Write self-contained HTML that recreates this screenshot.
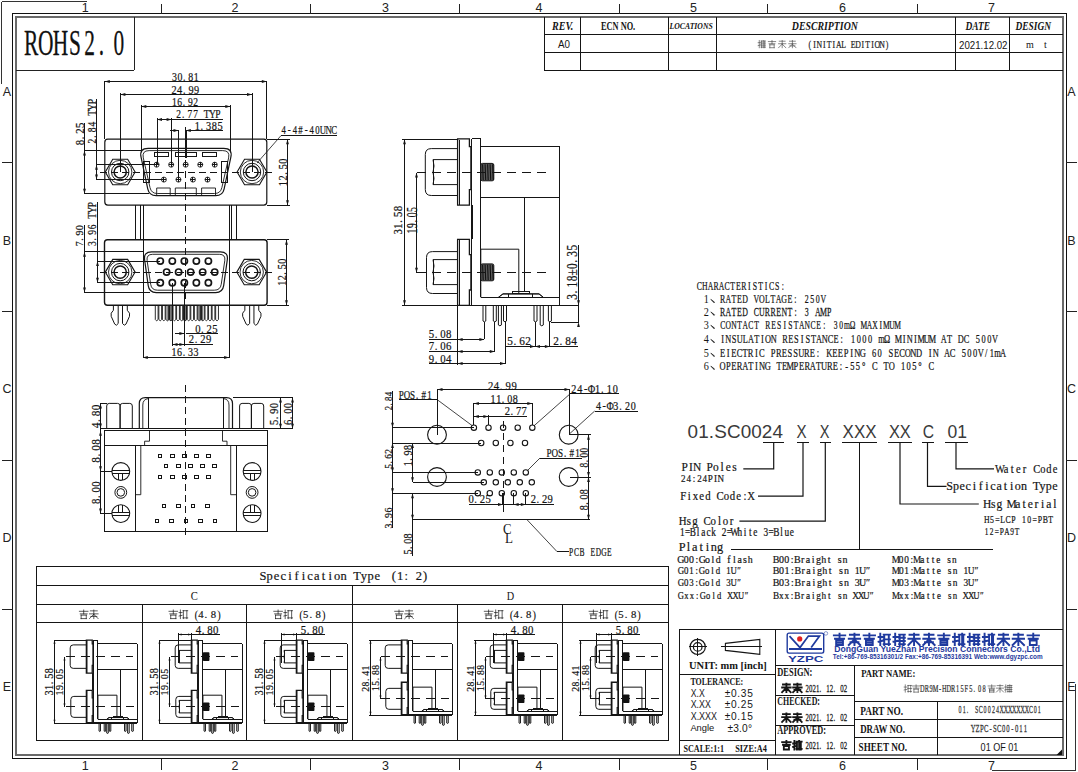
<!DOCTYPE html>
<html><head><meta charset="utf-8"><style>
html,body{margin:0;padding:0;background:#fff;width:1078px;height:772px;overflow:hidden}
svg{display:block;font-family:"Liberation Serif",serif}

</style></head><body>
<svg width="1078" height="772" viewBox="0 0 1078 772"><line x1="1.5" y1="1.5" x2="86.5" y2="1.5" stroke="#333" stroke-width="1" shape-rendering="crispEdges"/>
<line x1="1.5" y1="1.5" x2="1.5" y2="84" stroke="#333" stroke-width="1" shape-rendering="crispEdges"/>
<line x1="991.6" y1="770.5" x2="1075.5" y2="770.5" stroke="#333" stroke-width="1" shape-rendering="crispEdges"/>
<line x1="1075.5" y1="684" x2="1075.5" y2="770.5" stroke="#333" stroke-width="1" shape-rendering="crispEdges"/>
<rect x="12.5" y="13.5" width="1053.5" height="745" stroke="#111" stroke-width="1" fill="none" shape-rendering="crispEdges"/>
<rect x="16" y="17" width="1046.5" height="738" stroke="#6a6a6a" stroke-width="2" fill="none" shape-rendering="crispEdges"/>
<line x1="161.4" y1="3.5" x2="161.4" y2="13.5" stroke="#222" stroke-width="1" shape-rendering="crispEdges"/>
<line x1="161.4" y1="758.5" x2="161.4" y2="769.5" stroke="#222" stroke-width="1" shape-rendering="crispEdges"/>
<line x1="310.2" y1="3.5" x2="310.2" y2="13.5" stroke="#222" stroke-width="1" shape-rendering="crispEdges"/>
<line x1="310.2" y1="758.5" x2="310.2" y2="769.5" stroke="#222" stroke-width="1" shape-rendering="crispEdges"/>
<line x1="459.3" y1="3.5" x2="459.3" y2="13.5" stroke="#222" stroke-width="1" shape-rendering="crispEdges"/>
<line x1="459.3" y1="758.5" x2="459.3" y2="769.5" stroke="#222" stroke-width="1" shape-rendering="crispEdges"/>
<line x1="619.3" y1="3.5" x2="619.3" y2="13.5" stroke="#222" stroke-width="1" shape-rendering="crispEdges"/>
<line x1="619.3" y1="758.5" x2="619.3" y2="769.5" stroke="#222" stroke-width="1" shape-rendering="crispEdges"/>
<line x1="767.5" y1="3.5" x2="767.5" y2="13.5" stroke="#222" stroke-width="1" shape-rendering="crispEdges"/>
<line x1="767.5" y1="758.5" x2="767.5" y2="769.5" stroke="#222" stroke-width="1" shape-rendering="crispEdges"/>
<line x1="917.3" y1="3.5" x2="917.3" y2="13.5" stroke="#222" stroke-width="1" shape-rendering="crispEdges"/>
<line x1="917.3" y1="758.5" x2="917.3" y2="769.5" stroke="#222" stroke-width="1" shape-rendering="crispEdges"/>
<text x="85.3" y="12.3" font-family="Liberation Sans" font-size="12.5" fill="#222" text-anchor="middle">1</text>
<text x="85.3" y="769.8" font-family="Liberation Sans" font-size="12.5" fill="#222" text-anchor="middle">1</text>
<text x="235" y="12.3" font-family="Liberation Sans" font-size="12.5" fill="#222" text-anchor="middle">2</text>
<text x="235" y="769.8" font-family="Liberation Sans" font-size="12.5" fill="#222" text-anchor="middle">2</text>
<text x="385.5" y="12.3" font-family="Liberation Sans" font-size="12.5" fill="#222" text-anchor="middle">3</text>
<text x="385.5" y="769.8" font-family="Liberation Sans" font-size="12.5" fill="#222" text-anchor="middle">3</text>
<text x="539" y="12.3" font-family="Liberation Sans" font-size="12.5" fill="#222" text-anchor="middle">4</text>
<text x="539" y="769.8" font-family="Liberation Sans" font-size="12.5" fill="#222" text-anchor="middle">4</text>
<text x="693.5" y="12.3" font-family="Liberation Sans" font-size="12.5" fill="#222" text-anchor="middle">5</text>
<text x="693.5" y="769.8" font-family="Liberation Sans" font-size="12.5" fill="#222" text-anchor="middle">5</text>
<text x="842.5" y="12.3" font-family="Liberation Sans" font-size="12.5" fill="#222" text-anchor="middle">6</text>
<text x="842.5" y="769.8" font-family="Liberation Sans" font-size="12.5" fill="#222" text-anchor="middle">6</text>
<text x="991.5" y="12.3" font-family="Liberation Sans" font-size="12.5" fill="#222" text-anchor="middle">7</text>
<text x="991.5" y="769.8" font-family="Liberation Sans" font-size="12.5" fill="#222" text-anchor="middle">7</text>
<line x1="2" y1="162" x2="12.5" y2="162" stroke="#222" stroke-width="1" shape-rendering="crispEdges"/>
<line x1="1066" y1="162" x2="1077" y2="162" stroke="#222" stroke-width="1" shape-rendering="crispEdges"/>
<line x1="2" y1="311" x2="12.5" y2="311" stroke="#222" stroke-width="1" shape-rendering="crispEdges"/>
<line x1="1066" y1="311" x2="1077" y2="311" stroke="#222" stroke-width="1" shape-rendering="crispEdges"/>
<line x1="2" y1="460" x2="12.5" y2="460" stroke="#222" stroke-width="1" shape-rendering="crispEdges"/>
<line x1="1066" y1="460" x2="1077" y2="460" stroke="#222" stroke-width="1" shape-rendering="crispEdges"/>
<line x1="2" y1="609.5" x2="12.5" y2="609.5" stroke="#222" stroke-width="1" shape-rendering="crispEdges"/>
<line x1="1066" y1="609.5" x2="1077" y2="609.5" stroke="#222" stroke-width="1" shape-rendering="crispEdges"/>
<text x="7" y="95.5" font-family="Liberation Sans" font-size="12.5" fill="#222" text-anchor="middle">A</text>
<text x="1071.5" y="95.5" font-family="Liberation Sans" font-size="12.5" fill="#222" text-anchor="middle">A</text>
<text x="7" y="244.5" font-family="Liberation Sans" font-size="12.5" fill="#222" text-anchor="middle">B</text>
<text x="1071.5" y="244.5" font-family="Liberation Sans" font-size="12.5" fill="#222" text-anchor="middle">B</text>
<text x="7" y="392.5" font-family="Liberation Sans" font-size="12.5" fill="#222" text-anchor="middle">C</text>
<text x="1071.5" y="392.5" font-family="Liberation Sans" font-size="12.5" fill="#222" text-anchor="middle">C</text>
<text x="7" y="541.5" font-family="Liberation Sans" font-size="12.5" fill="#222" text-anchor="middle">D</text>
<text x="1071.5" y="541.5" font-family="Liberation Sans" font-size="12.5" fill="#222" text-anchor="middle">D</text>
<text x="7" y="691" font-family="Liberation Sans" font-size="12.5" fill="#222" text-anchor="middle">E</text>
<text x="1071.5" y="691" font-family="Liberation Sans" font-size="12.5" fill="#222" text-anchor="middle">E</text>
<line x1="16" y1="70.4" x2="134.4" y2="70.4" stroke="#222" stroke-width="1" shape-rendering="crispEdges"/>
<line x1="134.4" y1="17" x2="134.4" y2="70.4" stroke="#222" stroke-width="1" shape-rendering="crispEdges"/>
<text transform="translate(23.83 55.2) scale(0.61 1)" x="11.98 35.95 59.91 83.88 107.84 127.02 155.77" y="0" font-family="Liberation Serif" font-size="35.11" fill="#111" text-anchor="middle" stroke="#111" stroke-width="0.26">ROHS2.0</text>
<line x1="544.3" y1="17" x2="544.3" y2="70.5" stroke="#151515" stroke-width="1" shape-rendering="crispEdges"/>
<line x1="544.3" y1="34.8" x2="1062.5" y2="34.8" stroke="#151515" stroke-width="1" shape-rendering="crispEdges"/>
<line x1="544.3" y1="52.7" x2="1062.5" y2="52.7" stroke="#151515" stroke-width="1" shape-rendering="crispEdges"/>
<line x1="544.3" y1="70.5" x2="1062.5" y2="70.5" stroke="#151515" stroke-width="1" shape-rendering="crispEdges"/>
<line x1="580.3" y1="17" x2="580.3" y2="70.5" stroke="#151515" stroke-width="1" shape-rendering="crispEdges"/>
<line x1="668" y1="17" x2="668" y2="70.5" stroke="#151515" stroke-width="1" shape-rendering="crispEdges"/>
<line x1="716" y1="17" x2="716" y2="70.5" stroke="#151515" stroke-width="1" shape-rendering="crispEdges"/>
<line x1="955.5" y1="17" x2="955.5" y2="70.5" stroke="#151515" stroke-width="1" shape-rendering="crispEdges"/>
<line x1="1009" y1="17" x2="1009" y2="70.5" stroke="#151515" stroke-width="1" shape-rendering="crispEdges"/>
<text x="552" y="30" font-family="Liberation Serif" font-size="11.67" fill="#151515" font-weight="bold" font-style="italic" textLength="21.3" lengthAdjust="spacingAndGlyphs">REV.</text>
<text x="601" y="30" font-family="Liberation Serif" font-size="11.67" fill="#151515" font-weight="bold" textLength="34.2" lengthAdjust="spacingAndGlyphs">ECN NO.</text>
<text x="669.5" y="29.3" font-family="Liberation Serif" font-size="8.33" fill="#151515" font-weight="bold" font-style="italic" textLength="43.3" lengthAdjust="spacingAndGlyphs">LOCATIONS</text>
<text x="791.8" y="30.3" font-family="Liberation Serif" font-size="12.12" fill="#151515" font-weight="bold" font-style="italic" textLength="66.1" lengthAdjust="spacingAndGlyphs">DESCRIPTION</text>
<text x="965.5" y="30.3" font-family="Liberation Serif" font-size="11.82" fill="#151515" font-weight="bold" font-style="italic" textLength="24.6" lengthAdjust="spacingAndGlyphs">DATE</text>
<text x="1015.5" y="30.3" font-family="Liberation Serif" font-size="11.82" fill="#151515" font-weight="bold" font-style="italic" textLength="35.5" lengthAdjust="spacingAndGlyphs">DESIGN</text>
<text x="558" y="48.2" font-family="Liberation Sans" font-size="10.76" fill="#151515" textLength="12" lengthAdjust="spacingAndGlyphs">A0</text>
<text x="959" y="48.8" font-family="Liberation Sans" font-size="10.76" fill="#151515" textLength="48.5" lengthAdjust="spacingAndGlyphs">2021.12.02</text>
<text x="1026" y="47.5" font-family="Liberation Serif" font-size="10" fill="#151515">m</text>
<text x="1044" y="47.5" font-family="Liberation Serif" font-size="10" fill="#151515">t</text>
<text transform="translate(807.32 47.6) scale(0.69 1)" x="3.5 10.5 17.5 24.49 31.49 38.49 45.49 52.49 59.49 66.49 73.48 80.48 87.48 94.48 101.48 108.48 115.47" y="0" font-family="Liberation Serif" font-size="11.3" fill="#222" text-anchor="middle" stroke="#222" stroke-width="0.24">(INITIAL EDITION)</text>
<rect x="104.8" y="139.2" width="162" height="65.9" stroke="#151515" stroke-width="1.2" fill="none" rx="3"/>
<path d="M148.2,148.4 L223.7,148.4 Q232.7,148.4 230.84,157.21 L224.15,188.85 Q222.7,195.7 215.7,195.7 L156.2,195.7 Q149.2,195.7 147.75,188.85 L141.06,157.21 Q139.2,148.4 148.2,148.4 Z" stroke="#151515" stroke-width="1.2" fill="none" />
<path d="M149.15,150.6 L222.75,150.6 Q230.25,150.6 228.6,157.92 L221.87,187.65 Q220.55,193.5 214.55,193.5 L157.35,193.5 Q151.35,193.5 150.03,187.65 L143.3,157.92 Q141.65,150.6 149.15,150.6 Z" stroke="#151515" stroke-width="0.9" fill="none" />
<rect x="154.5" y="152.4" width="13.9" height="4.4" stroke="#151515" stroke-width="1" fill="none" shape-rendering="crispEdges"/>
<rect x="175.3" y="152.4" width="21" height="4.4" stroke="#151515" stroke-width="1" fill="none" shape-rendering="crispEdges"/>
<rect x="202.9" y="152.4" width="13.8" height="4.4" stroke="#151515" stroke-width="1" fill="none" shape-rendering="crispEdges"/>
<path d="M156.7,195 V188 H170.2 V195" stroke="#151515" stroke-width="0.9" fill="none" />
<path d="M175.3,195 V188 H196.3 V195" stroke="#151515" stroke-width="0.9" fill="none" />
<path d="M201.6,195 V188 H215.5 V195" stroke="#151515" stroke-width="0.9" fill="none" />
<rect x="143.3" y="161.6" width="6.1" height="20.4" stroke="#151515" stroke-width="1" fill="none" shape-rendering="crispEdges"/>
<rect x="221.8" y="161.6" width="6.1" height="20.4" stroke="#151515" stroke-width="1" fill="none" shape-rendering="crispEdges"/>
<circle cx="156.6" cy="164.7" r="2.5" stroke="#151515" stroke-width="0.9" fill="none"/>
<line x1="154.1" y1="164.7" x2="159.1" y2="164.7" stroke="#151515" stroke-width="1" shape-rendering="crispEdges"/>
<line x1="156.6" y1="162.2" x2="156.6" y2="167.2" stroke="#151515" stroke-width="1" shape-rendering="crispEdges"/>
<circle cx="171.14" cy="164.7" r="2.5" stroke="#151515" stroke-width="0.9" fill="none"/>
<line x1="168.64" y1="164.7" x2="173.64" y2="164.7" stroke="#151515" stroke-width="1" shape-rendering="crispEdges"/>
<line x1="171.14" y1="162.2" x2="171.14" y2="167.2" stroke="#151515" stroke-width="1" shape-rendering="crispEdges"/>
<circle cx="185.68" cy="164.7" r="2.5" stroke="#151515" stroke-width="0.9" fill="none"/>
<line x1="183.18" y1="164.7" x2="188.18" y2="164.7" stroke="#151515" stroke-width="1" shape-rendering="crispEdges"/>
<line x1="185.68" y1="162.2" x2="185.68" y2="167.2" stroke="#151515" stroke-width="1" shape-rendering="crispEdges"/>
<circle cx="200.22" cy="164.7" r="2.5" stroke="#151515" stroke-width="0.9" fill="none"/>
<line x1="197.72" y1="164.7" x2="202.72" y2="164.7" stroke="#151515" stroke-width="1" shape-rendering="crispEdges"/>
<line x1="200.22" y1="162.2" x2="200.22" y2="167.2" stroke="#151515" stroke-width="1" shape-rendering="crispEdges"/>
<circle cx="214.76" cy="164.7" r="2.5" stroke="#151515" stroke-width="0.9" fill="none"/>
<line x1="212.26" y1="164.7" x2="217.26" y2="164.7" stroke="#151515" stroke-width="1" shape-rendering="crispEdges"/>
<line x1="214.76" y1="162.2" x2="214.76" y2="167.2" stroke="#151515" stroke-width="1" shape-rendering="crispEdges"/>
<circle cx="163.9" cy="179.6" r="2.5" stroke="#151515" stroke-width="0.9" fill="none"/>
<line x1="161.4" y1="179.6" x2="166.4" y2="179.6" stroke="#151515" stroke-width="1" shape-rendering="crispEdges"/>
<line x1="163.9" y1="177.1" x2="163.9" y2="182.1" stroke="#151515" stroke-width="1" shape-rendering="crispEdges"/>
<circle cx="178.44" cy="179.6" r="2.5" stroke="#151515" stroke-width="0.9" fill="none"/>
<line x1="175.94" y1="179.6" x2="180.94" y2="179.6" stroke="#151515" stroke-width="1" shape-rendering="crispEdges"/>
<line x1="178.44" y1="177.1" x2="178.44" y2="182.1" stroke="#151515" stroke-width="1" shape-rendering="crispEdges"/>
<circle cx="192.98" cy="179.6" r="2.5" stroke="#151515" stroke-width="0.9" fill="none"/>
<line x1="190.48" y1="179.6" x2="195.48" y2="179.6" stroke="#151515" stroke-width="1" shape-rendering="crispEdges"/>
<line x1="192.98" y1="177.1" x2="192.98" y2="182.1" stroke="#151515" stroke-width="1" shape-rendering="crispEdges"/>
<circle cx="207.52" cy="179.6" r="2.5" stroke="#151515" stroke-width="0.9" fill="none"/>
<line x1="205.02" y1="179.6" x2="210.02" y2="179.6" stroke="#151515" stroke-width="1" shape-rendering="crispEdges"/>
<line x1="207.52" y1="177.1" x2="207.52" y2="182.1" stroke="#151515" stroke-width="1" shape-rendering="crispEdges"/>
<polygon points="105.3,172 112.75,159.3 127.65,159.3 135.1,172 127.65,184.7 112.75,184.7" stroke="#151515" stroke-width="1.1" fill="none"/>
<circle cx="120.2" cy="172" r="11.7" stroke="#151515" stroke-width="0.9" fill="none"/>
<circle cx="120.2" cy="172" r="8.7" stroke="#151515" stroke-width="1" fill="none"/>
<circle cx="120.2" cy="172" r="6.1" stroke="#151515" stroke-width="1.5" fill="none"/>
<polygon points="237.1,172 244.55,159.3 259.45,159.3 266.9,172 259.45,184.7 244.55,184.7" stroke="#151515" stroke-width="1.1" fill="none"/>
<circle cx="252" cy="172" r="11.7" stroke="#151515" stroke-width="0.9" fill="none"/>
<circle cx="252" cy="172" r="8.7" stroke="#151515" stroke-width="1" fill="none"/>
<circle cx="252" cy="172" r="6.1" stroke="#151515" stroke-width="1.5" fill="none"/>
<line x1="100" y1="172" x2="272" y2="172" stroke="#151515" stroke-width="1" shape-rendering="crispEdges" stroke-dasharray="7,4"/>
<line x1="135.1" y1="205.1" x2="135.1" y2="239.7" stroke="#151515" stroke-width="1" shape-rendering="crispEdges"/>
<line x1="140.5" y1="205.1" x2="140.5" y2="239.7" stroke="#151515" stroke-width="1" shape-rendering="crispEdges"/>
<line x1="231.4" y1="205.1" x2="231.4" y2="239.7" stroke="#151515" stroke-width="1" shape-rendering="crispEdges"/>
<line x1="236.8" y1="205.1" x2="236.8" y2="239.7" stroke="#151515" stroke-width="1" shape-rendering="crispEdges"/>
<rect x="104.5" y="239.7" width="162.6" height="65.5" stroke="#151515" stroke-width="1.4" fill="none" rx="3"/>
<path d="M151.5,251.8 L220.4,251.8 Q228.4,251.8 227.29,259.72 L223.67,285.67 Q222.7,292.6 215.7,292.6 L156.2,292.6 Q149.2,292.6 148.23,285.67 L144.61,259.72 Q143.5,251.8 151.5,251.8 Z" stroke="#151515" stroke-width="1.2" fill="none" />
<path d="M152.65,254.3 L219.25,254.3 Q225.75,254.3 224.78,260.73 L221.24,284.27 Q220.35,290.2 214.35,290.2 L157.55,290.2 Q151.55,290.2 150.66,284.27 L147.12,260.73 Q146.15,254.3 152.65,254.3 Z" stroke="#151515" stroke-width="0.9" fill="none" />
<circle cx="160.3" cy="261.1" r="3.1" stroke="#151515" stroke-width="1.7" fill="none"/>
<circle cx="172.32" cy="261.1" r="3.1" stroke="#151515" stroke-width="1.7" fill="none"/>
<circle cx="184.34" cy="261.1" r="3.1" stroke="#151515" stroke-width="1.7" fill="none"/>
<circle cx="196.36" cy="261.1" r="3.1" stroke="#151515" stroke-width="1.7" fill="none"/>
<circle cx="208.38" cy="261.1" r="3.1" stroke="#151515" stroke-width="1.7" fill="none"/>
<circle cx="166.6" cy="272.1" r="3.1" stroke="#151515" stroke-width="1.7" fill="none"/>
<circle cx="178.62" cy="272.1" r="3.1" stroke="#151515" stroke-width="1.7" fill="none"/>
<circle cx="190.64" cy="272.1" r="3.1" stroke="#151515" stroke-width="1.7" fill="none"/>
<circle cx="202.66" cy="272.1" r="3.1" stroke="#151515" stroke-width="1.7" fill="none"/>
<circle cx="214.68" cy="272.1" r="3.1" stroke="#151515" stroke-width="1.7" fill="none"/>
<circle cx="160.3" cy="282.8" r="3.1" stroke="#151515" stroke-width="1.7" fill="none"/>
<circle cx="172.32" cy="282.8" r="3.1" stroke="#151515" stroke-width="1.7" fill="none"/>
<circle cx="184.34" cy="282.8" r="3.1" stroke="#151515" stroke-width="1.7" fill="none"/>
<circle cx="196.36" cy="282.8" r="3.1" stroke="#151515" stroke-width="1.7" fill="none"/>
<circle cx="208.38" cy="282.8" r="3.1" stroke="#151515" stroke-width="1.7" fill="none"/>
<polygon points="105.3,272.1 112.75,259.4 127.65,259.4 135.1,272.1 127.65,284.8 112.75,284.8" stroke="#151515" stroke-width="1.1" fill="none"/>
<circle cx="120.2" cy="272.1" r="11.7" stroke="#151515" stroke-width="0.9" fill="none"/>
<circle cx="120.2" cy="272.1" r="8.7" stroke="#151515" stroke-width="1" fill="none"/>
<circle cx="120.2" cy="272.1" r="6.1" stroke="#151515" stroke-width="1.5" fill="none"/>
<polygon points="236.8,272.1 244.25,259.4 259.15,259.4 266.6,272.1 259.15,284.8 244.25,284.8" stroke="#151515" stroke-width="1.1" fill="none"/>
<circle cx="251.7" cy="272.1" r="11.7" stroke="#151515" stroke-width="0.9" fill="none"/>
<circle cx="251.7" cy="272.1" r="8.7" stroke="#151515" stroke-width="1" fill="none"/>
<circle cx="251.7" cy="272.1" r="6.1" stroke="#151515" stroke-width="1.5" fill="none"/>
<line x1="100" y1="272.1" x2="272" y2="272.1" stroke="#151515" stroke-width="1" shape-rendering="crispEdges" stroke-dasharray="7,4"/>
<line x1="185.8" y1="127" x2="185.8" y2="300" stroke="#151515" stroke-width="1" shape-rendering="crispEdges" stroke-dasharray="7,4"/>
<line x1="185.8" y1="129.5" x2="185.8" y2="158" stroke="#151515" stroke-width="2" shape-rendering="crispEdges"/>
<rect x="167.2" y="305.8" width="5.1" height="14.7" fill="#777"/>
<rect x="182.2" y="305.8" width="4.6" height="14.7" fill="#777"/>
<rect x="198.6" y="305.8" width="4.4" height="14.7" fill="#777"/>
<path d="M155.3,305.3 V319.5 Q156.7,322.3 158.1,319.5 V305.3" stroke="#151515" stroke-width="0.9" fill="none" />
<path d="M158.85,305.3 V319.5 Q160.25,322.3 161.65,319.5 V305.3" stroke="#151515" stroke-width="0.9" fill="none" />
<path d="M162.4,305.3 V319.5 Q163.8,322.3 165.2,319.5 V305.3" stroke="#151515" stroke-width="0.9" fill="none" />
<path d="M165.95,305.3 V319.5 Q167.35,322.3 168.75,319.5 V305.3" stroke="#151515" stroke-width="0.9" fill="none" />
<path d="M169.5,305.3 V319.5 Q170.9,322.3 172.3,319.5 V305.3" stroke="#151515" stroke-width="0.9" fill="none" />
<path d="M173.05,305.3 V319.5 Q174.45,322.3 175.85,319.5 V305.3" stroke="#151515" stroke-width="0.9" fill="none" />
<path d="M176.6,305.3 V319.5 Q178,322.3 179.4,319.5 V305.3" stroke="#151515" stroke-width="0.9" fill="none" />
<path d="M180.15,305.3 V319.5 Q181.55,322.3 182.95,319.5 V305.3" stroke="#151515" stroke-width="0.9" fill="none" />
<path d="M183.7,305.3 V319.5 Q185.1,322.3 186.5,319.5 V305.3" stroke="#151515" stroke-width="0.9" fill="none" />
<path d="M187.25,305.3 V319.5 Q188.65,322.3 190.05,319.5 V305.3" stroke="#151515" stroke-width="0.9" fill="none" />
<path d="M190.8,305.3 V319.5 Q192.2,322.3 193.6,319.5 V305.3" stroke="#151515" stroke-width="0.9" fill="none" />
<path d="M194.35,305.3 V319.5 Q195.75,322.3 197.15,319.5 V305.3" stroke="#151515" stroke-width="0.9" fill="none" />
<path d="M197.9,305.3 V319.5 Q199.3,322.3 200.7,319.5 V305.3" stroke="#151515" stroke-width="0.9" fill="none" />
<path d="M201.45,305.3 V319.5 Q202.85,322.3 204.25,319.5 V305.3" stroke="#151515" stroke-width="0.9" fill="none" />
<path d="M205,305.3 V319.5 Q206.4,322.3 207.8,319.5 V305.3" stroke="#151515" stroke-width="0.9" fill="none" />
<path d="M208.55,305.3 V319.5 Q209.95,322.3 211.35,319.5 V305.3" stroke="#151515" stroke-width="0.9" fill="none" />
<path d="M212.1,305.3 V319.5 Q213.5,322.3 214.9,319.5 V305.3" stroke="#151515" stroke-width="0.9" fill="none" />
<path d="M215.65,305.3 V319.5 Q217.05,322.3 218.45,319.5 V305.3" stroke="#151515" stroke-width="0.9" fill="none" />
<path d="M113.4,305.3 L113.4,310.3 L111.2,313.2 L111.2,316.3 L114.7,324.1 Q116.45,326.6 118.2,323.5 L118.2,305.3" stroke="#151515" stroke-width="1" fill="none" />
<path d="M127.3,305.3 L127.3,310.3 L129.5,313.2 L129.5,316.3 L126,324.1 Q124.25,326.6 122.5,323.5 L122.5,305.3" stroke="#151515" stroke-width="1" fill="none" />
<path d="M244.85,305.3 L244.85,310.3 L242.65,313.2 L242.65,316.3 L246.15,324.1 Q247.9,326.6 249.65,323.5 L249.65,305.3" stroke="#151515" stroke-width="1" fill="none" />
<path d="M258.75,305.3 L258.75,310.3 L260.95,313.2 L260.95,316.3 L257.45,324.1 Q255.7,326.6 253.95,323.5 L253.95,305.3" stroke="#151515" stroke-width="1" fill="none" />
<line x1="104.8" y1="80.8" x2="104.8" y2="139.2" stroke="#151515" stroke-width="1" shape-rendering="crispEdges"/>
<line x1="266.8" y1="80.8" x2="266.8" y2="139.2" stroke="#151515" stroke-width="1" shape-rendering="crispEdges"/>
<line x1="104.8" y1="81.8" x2="266.8" y2="81.8" stroke="#151515" stroke-width="1" shape-rendering="crispEdges"/>
<polygon points="104.8,81.5 109.8,80.1 109.8,82.9" fill="#151515"/>
<polygon points="266.8,81.5 261.8,82.9 261.8,80.1" fill="#151515"/>
<line x1="120.4" y1="93.3" x2="120.4" y2="172" stroke="#151515" stroke-width="1" shape-rendering="crispEdges"/>
<line x1="252" y1="93.3" x2="252" y2="172" stroke="#151515" stroke-width="1" shape-rendering="crispEdges"/>
<line x1="120.4" y1="94.3" x2="252" y2="94.3" stroke="#151515" stroke-width="1" shape-rendering="crispEdges"/>
<polygon points="120.4,94.5 125.4,93.1 125.4,95.9" fill="#151515"/>
<polygon points="252,94.5 247,95.9 247,93.1" fill="#151515"/>
<line x1="141.3" y1="105.3" x2="141.3" y2="152" stroke="#151515" stroke-width="1" shape-rendering="crispEdges"/>
<line x1="230.3" y1="105.3" x2="230.3" y2="152" stroke="#151515" stroke-width="1" shape-rendering="crispEdges"/>
<line x1="141.3" y1="106.3" x2="230.3" y2="106.3" stroke="#151515" stroke-width="1" shape-rendering="crispEdges"/>
<polygon points="141.3,106.5 146.3,105.1 146.3,107.9" fill="#151515"/>
<polygon points="230.3,106.5 225.3,107.9 225.3,105.1" fill="#151515"/>
<line x1="157" y1="118.1" x2="157" y2="164.7" stroke="#151515" stroke-width="1" shape-rendering="crispEdges"/>
<line x1="171.6" y1="118.1" x2="171.6" y2="164.7" stroke="#151515" stroke-width="1" shape-rendering="crispEdges"/>
<line x1="157" y1="119.1" x2="171.6" y2="119.1" stroke="#151515" stroke-width="1" shape-rendering="crispEdges"/>
<polygon points="157,119.5 162,118.1 162,120.9" fill="#151515"/>
<polygon points="171.6,119.5 166.6,120.9 166.6,118.1" fill="#151515"/>
<line x1="171.6" y1="119.1" x2="222.8" y2="119.1" stroke="#151515" stroke-width="1" shape-rendering="crispEdges"/>
<line x1="178.5" y1="129.5" x2="178.5" y2="179.6" stroke="#151515" stroke-width="1" shape-rendering="crispEdges"/>
<line x1="169.5" y1="130.5" x2="178.5" y2="130.5" stroke="#151515" stroke-width="1" shape-rendering="crispEdges"/>
<polygon points="178.5,130.5 173.5,131.9 173.5,129.1" fill="#151515"/>
<line x1="185.8" y1="130.5" x2="222.8" y2="130.5" stroke="#151515" stroke-width="1" shape-rendering="crispEdges"/>
<polygon points="185.8,130.5 190.8,129.1 190.8,131.9" fill="#151515"/>
<text transform="translate(171.87 80.9) scale(0.82 1)" x="3.29 9.88 15.15 23.05 29.63" y="0" font-family="Liberation Serif" font-size="12" fill="#151515" text-anchor="middle" stroke="#151515" stroke-width="0.22">30.81</text>
<text transform="translate(171.15 93.8) scale(0.86 1)" x="3.29 9.88 15.15 23.05 29.63" y="0" font-family="Liberation Serif" font-size="12" fill="#151515" text-anchor="middle" stroke="#151515" stroke-width="0.22">24.99</text>
<text transform="translate(171.88 105.8) scale(0.8 1)" x="3.29 9.88 15.15 23.05 29.63" y="0" font-family="Liberation Serif" font-size="12" fill="#151515" text-anchor="middle" stroke="#151515" stroke-width="0.22">16.92</text>
<text transform="translate(175.85 118) scale(0.79 1)" x="3.56 9.25 17.79 24.9 32.01 39.13 46.24 53.36" y="0" font-family="Liberation Serif" font-size="12" fill="#151515" text-anchor="middle" stroke="#151515" stroke-width="0.22">2.77 TYP</text>
<text transform="translate(194.55 129.5) scale(0.86 1)" x="3.29 8.56 16.46 23.05 29.63" y="0" font-family="Liberation Serif" font-size="12" fill="#151515" text-anchor="middle" stroke="#151515" stroke-width="0.22">1.385</text>
<line x1="84.6" y1="122.6" x2="84.6" y2="193.7" stroke="#151515" stroke-width="1" shape-rendering="crispEdges"/>
<polygon points="84.5,150.4 85.9,155.4 83.1,155.4" fill="#151515"/>
<polygon points="84.5,193.7 83.1,188.7 85.9,188.7" fill="#151515"/>
<line x1="84" y1="150.4" x2="141" y2="150.4" stroke="#151515" stroke-width="1" shape-rendering="crispEdges"/>
<line x1="84" y1="193.7" x2="149" y2="193.7" stroke="#151515" stroke-width="1" shape-rendering="crispEdges"/>
<line x1="96.4" y1="99" x2="96.4" y2="179.6" stroke="#151515" stroke-width="1" shape-rendering="crispEdges"/>
<polygon points="96.5,164.7 97.9,169.7 95.1,169.7" fill="#151515"/>
<polygon points="96.5,179.6 95.1,174.6 97.9,174.6" fill="#151515"/>
<line x1="95.5" y1="164.7" x2="156.6" y2="164.7" stroke="#151515" stroke-width="1" shape-rendering="crispEdges"/>
<line x1="95.5" y1="179.6" x2="163.9" y2="179.6" stroke="#151515" stroke-width="1" shape-rendering="crispEdges"/>
<text transform="translate(83.9 145.36) rotate(-90) scale(0.85 1)" x="3.38 8.79 16.9 23.66" y="0" font-family="Liberation Serif" font-size="12.67" fill="#151515" text-anchor="middle" stroke="#151515" stroke-width="0.22">8.25</text>
<text transform="translate(95.7 143.95) rotate(-90) scale(0.75 1)" x="3.76 9.77 18.78 26.29 33.81 41.32 48.83 56.34" y="0" font-family="Liberation Serif" font-size="12.67" fill="#151515" text-anchor="middle" stroke="#151515" stroke-width="0.23">2.84 TYP</text>
<line x1="266.8" y1="139.2" x2="289.5" y2="139.2" stroke="#151515" stroke-width="1" shape-rendering="crispEdges"/>
<line x1="266.8" y1="205.2" x2="289.5" y2="205.2" stroke="#151515" stroke-width="1" shape-rendering="crispEdges"/>
<line x1="287.7" y1="139.2" x2="287.7" y2="205.2" stroke="#151515" stroke-width="1" shape-rendering="crispEdges"/>
<polygon points="287.5,139.2 288.9,144.2 286.1,144.2" fill="#151515"/>
<polygon points="287.5,205.2 286.1,200.2 288.9,200.2" fill="#151515"/>
<text transform="translate(286.8 186.45) rotate(-90) scale(0.81 1)" x="3.48 10.43 15.99 24.34 31.29" y="0" font-family="Liberation Serif" font-size="12.67" fill="#151515" text-anchor="middle" stroke="#151515" stroke-width="0.22">12.50</text>
<text transform="translate(280.85 134.2) scale(0.74 1)" x="3.8 11.39 18.99 26.58 34.17 41.77 49.36 56.96 64.55 72.15" y="0" font-family="Liberation Serif" font-size="11.8" fill="#151515" text-anchor="middle" stroke="#151515" stroke-width="0.23">4-4#-40UNC</text>
<line x1="281" y1="135.6" x2="337" y2="135.6" stroke="#151515" stroke-width="1" shape-rendering="crispEdges"/>
<line x1="281" y1="135.6" x2="257" y2="163" stroke="#151515" stroke-width="0.8"/>
<line x1="84.5" y1="225" x2="84.5" y2="292.6" stroke="#151515" stroke-width="1" shape-rendering="crispEdges"/>
<polygon points="84.5,251.8 85.9,256.8 83.1,256.8" fill="#151515"/>
<polygon points="84.5,292.6 83.1,287.6 85.9,287.6" fill="#151515"/>
<line x1="84" y1="251.8" x2="143.5" y2="251.8" stroke="#151515" stroke-width="1" shape-rendering="crispEdges"/>
<line x1="84" y1="292.6" x2="150" y2="292.6" stroke="#151515" stroke-width="1" shape-rendering="crispEdges"/>
<line x1="97.3" y1="201.7" x2="97.3" y2="282.8" stroke="#151515" stroke-width="1" shape-rendering="crispEdges"/>
<polygon points="97.5,261.1 98.9,266.1 96.1,266.1" fill="#151515"/>
<polygon points="97.5,282.8 96.1,277.8 98.9,277.8" fill="#151515"/>
<line x1="96.5" y1="261.1" x2="160.3" y2="261.1" stroke="#151515" stroke-width="1" shape-rendering="crispEdges"/>
<line x1="96.5" y1="282.8" x2="160.3" y2="282.8" stroke="#151515" stroke-width="1" shape-rendering="crispEdges"/>
<text transform="translate(83.3 246.43) rotate(-90) scale(0.94 1)" x="2.85 7.41 14.25 19.96" y="0" font-family="Liberation Serif" font-size="10.69" fill="#151515" text-anchor="middle" stroke="#151515" stroke-width="0.21">7.90</text>
<text transform="translate(96 246.45) rotate(-90) scale(0.77 1)" x="3.62 9.41 18.1 25.34 32.58 39.83 47.07 54.31" y="0" font-family="Liberation Serif" font-size="12.21" fill="#151515" text-anchor="middle" stroke="#151515" stroke-width="0.23">3.96 TYP</text>
<line x1="267.1" y1="239.7" x2="288.5" y2="239.7" stroke="#151515" stroke-width="1" shape-rendering="crispEdges"/>
<line x1="267.1" y1="305.2" x2="288.5" y2="305.2" stroke="#151515" stroke-width="1" shape-rendering="crispEdges"/>
<line x1="286.2" y1="239.7" x2="286.2" y2="305.2" stroke="#151515" stroke-width="1" shape-rendering="crispEdges"/>
<polygon points="286.5,239.7 287.9,244.7 285.1,244.7" fill="#151515"/>
<polygon points="286.5,305.2 285.1,300.2 287.9,300.2" fill="#151515"/>
<text transform="translate(286.2 286.04) rotate(-90) scale(0.8 1)" x="3.44 10.31 15.8 24.05 30.92" y="0" font-family="Liberation Serif" font-size="12.52" fill="#151515" text-anchor="middle" stroke="#151515" stroke-width="0.22">12.50</text>
<line x1="143.2" y1="205.1" x2="143.2" y2="358" stroke="#151515" stroke-width="1" shape-rendering="crispEdges"/>
<line x1="229.1" y1="205.1" x2="229.1" y2="358" stroke="#151515" stroke-width="1" shape-rendering="crispEdges"/>
<line x1="142.8" y1="357.2" x2="229.1" y2="357.2" stroke="#151515" stroke-width="1" shape-rendering="crispEdges"/>
<polygon points="142.8,357.5 147.8,356.1 147.8,358.9" fill="#151515"/>
<polygon points="229.1,357.5 224.1,358.9 224.1,356.1" fill="#151515"/>
<text transform="translate(171.36 355.7) scale(0.83 1)" x="3.29 9.88 15.15 23.05 29.63" y="0" font-family="Liberation Serif" font-size="12" fill="#151515" text-anchor="middle" stroke="#151515" stroke-width="0.22">16.33</text>
<line x1="172.5" y1="282.8" x2="172.5" y2="346" stroke="#151515" stroke-width="1" shape-rendering="crispEdges"/>
<line x1="184.6" y1="282.8" x2="184.6" y2="346" stroke="#151515" stroke-width="1" shape-rendering="crispEdges"/>
<line x1="174.9" y1="333.2" x2="184.4" y2="333.2" stroke="#151515" stroke-width="1" shape-rendering="crispEdges"/>
<polygon points="184.4,333.5 179.4,334.9 179.4,332.1" fill="#151515"/>
<line x1="186" y1="333.2" x2="218.3" y2="333.2" stroke="#151515" stroke-width="1" shape-rendering="crispEdges"/>
<line x1="172.5" y1="344.2" x2="184.4" y2="344.2" stroke="#151515" stroke-width="1" shape-rendering="crispEdges"/>
<polygon points="172.5,344.5 177.5,343.1 177.5,345.9" fill="#151515"/>
<polygon points="184.4,344.5 179.4,345.9 179.4,343.1" fill="#151515"/>
<line x1="184.4" y1="344.2" x2="212.8" y2="344.2" stroke="#151515" stroke-width="1" shape-rendering="crispEdges"/>
<text transform="translate(194.95 332.8) scale(0.89 1)" x="3.2 8.32 16.01 22.41" y="0" font-family="Liberation Serif" font-size="12" fill="#151515" text-anchor="middle" stroke="#151515" stroke-width="0.21">0.25</text>
<text transform="translate(188.65 343.1) scale(0.89 1)" x="3.2 8.32 16.01 22.41" y="0" font-family="Liberation Serif" font-size="12" fill="#151515" text-anchor="middle" stroke="#151515" stroke-width="0.21">2.29</text>
<path d="M457.6,148.6 H431.3 Q425.3,148.6 425.3,154.6 V189.5 Q425.3,195.5 431.3,195.5 H457.6" stroke="#151515" stroke-width="1" fill="none" />
<path d="M457.6,159.6 H433 Q435,166 433,172.3 Q435,178.6 433,184.6 H457.6" stroke="#151515" stroke-width="1" fill="none" />
<line x1="433" y1="159.6" x2="433" y2="184.6" stroke="#151515" stroke-width="1" shape-rendering="crispEdges"/>
<path d="M457.6,138.9 H469.4 V146.6 H470.9 V189.6 H469.4 V205.1 H457.6 Z" stroke="#151515" stroke-width="1.3" fill="none" />
<line x1="459.4" y1="139.5" x2="459.4" y2="204.5" stroke="#151515" stroke-width="1" shape-rendering="crispEdges"/>
<line x1="471.5" y1="138.9" x2="480.8" y2="138.9" stroke="#151515" stroke-width="1" shape-rendering="crispEdges"/>
<line x1="480.8" y1="146.6" x2="559.6" y2="146.6" stroke="#151515" stroke-width="1" shape-rendering="crispEdges"/>
<line x1="480.8" y1="197.4" x2="559.6" y2="197.4" stroke="#151515" stroke-width="1" shape-rendering="crispEdges"/>
<rect x="480.8" y="163.4" width="13" height="17.4" rx="1.6" fill="#5a5a5a" stroke="#111" stroke-width="1"/>
<line x1="482.6" y1="164.2" x2="483.2" y2="180" stroke="#111" stroke-width="1.1"/>
<line x1="485.1" y1="164.2" x2="485.7" y2="180" stroke="#111" stroke-width="1.1"/>
<line x1="487.6" y1="164.2" x2="488.2" y2="180" stroke="#111" stroke-width="1.1"/>
<line x1="490.1" y1="164.2" x2="490.7" y2="180" stroke="#111" stroke-width="1.1"/>
<line x1="492.6" y1="164.2" x2="493.2" y2="180" stroke="#111" stroke-width="1.1"/>
<line x1="416.7" y1="172.5" x2="550" y2="172.5" stroke="#151515" stroke-width="1" shape-rendering="crispEdges" stroke-dasharray="9,6"/>
<path d="M457.6,251.6 H432.5 Q426.5,251.6 426.5,257.6 V287.5 Q426.5,293.5 432.5,293.5 H457.6" stroke="#151515" stroke-width="1" fill="none" />
<path d="M457.6,259.6 H433 Q435,266 433,272.3 Q435,278.6 433,284.6 H457.6" stroke="#151515" stroke-width="1" fill="none" />
<line x1="433" y1="259.6" x2="433" y2="284.6" stroke="#151515" stroke-width="1" shape-rendering="crispEdges"/>
<path d="M457.6,239.4 H469.4 V254.7 H470.9 V290 H469.4 V305.3 H457.6 Z" stroke="#151515" stroke-width="1.3" fill="none" />
<line x1="459.4" y1="240" x2="459.4" y2="304.8" stroke="#151515" stroke-width="1" shape-rendering="crispEdges"/>
<path d="M480.8,297.4 V249.2 H518.8 V293.9" stroke="#151515" stroke-width="1" fill="none" />
<rect x="480.8" y="263.9" width="13" height="16.9" rx="1.6" fill="#5a5a5a" stroke="#111" stroke-width="1"/>
<line x1="482.6" y1="264.7" x2="483.2" y2="280" stroke="#111" stroke-width="1.1"/>
<line x1="485.1" y1="264.7" x2="485.7" y2="280" stroke="#111" stroke-width="1.1"/>
<line x1="487.6" y1="264.7" x2="488.2" y2="280" stroke="#111" stroke-width="1.1"/>
<line x1="490.1" y1="264.7" x2="490.7" y2="280" stroke="#111" stroke-width="1.1"/>
<line x1="492.6" y1="264.7" x2="493.2" y2="280" stroke="#111" stroke-width="1.1"/>
<line x1="416.7" y1="272.7" x2="552" y2="272.7" stroke="#151515" stroke-width="1" shape-rendering="crispEdges" stroke-dasharray="9,6"/>
<line x1="471.5" y1="138.9" x2="471.5" y2="305.3" stroke="#151515" stroke-width="1" shape-rendering="crispEdges"/>
<line x1="471.8" y1="205.1" x2="471.8" y2="239.4" stroke="#151515" stroke-width="2" shape-rendering="crispEdges"/>
<line x1="480.8" y1="138.9" x2="480.8" y2="297.3" stroke="#151515" stroke-width="1" shape-rendering="crispEdges"/>
<line x1="559.6" y1="146.6" x2="559.6" y2="305.3" stroke="#151515" stroke-width="1" shape-rendering="crispEdges"/>
<line x1="480.8" y1="297.3" x2="559.6" y2="297.3" stroke="#151515" stroke-width="1" shape-rendering="crispEdges"/>
<line x1="524.9" y1="197.4" x2="524.9" y2="291.4" stroke="#151515" stroke-width="1" shape-rendering="crispEdges"/>
<path d="M498.4,297.3 L503,293.9 H539 L543.3,297.3" stroke="#151515" stroke-width="1" fill="none" />
<rect x="512.7" y="291.4" width="16.3" height="2.5" stroke="#151515" stroke-width="1" fill="none" shape-rendering="crispEdges"/>
<line x1="457.6" y1="305.3" x2="559.6" y2="305.3" stroke="#151515" stroke-width="1" shape-rendering="crispEdges"/>
<path d="M483,305.3 V321 Q484.4,322.6 485.8,321 V305.3" stroke="#151515" stroke-width="1" fill="none" />
<path d="M493.3,305.3 V321 Q494.8,322.6 496.3,321 V305.3" stroke="#151515" stroke-width="1" fill="none" />
<path d="M498.4,305.3 V325 Q499.9,326.6 501.4,325 V305.3" stroke="#151515" stroke-width="1" fill="none" />
<path d="M503.5,305.3 V321 Q505,322.6 506.5,321 V305.3" stroke="#151515" stroke-width="1" fill="none" />
<path d="M534,305.3 V321 Q535.5,322.6 537,321 V305.3" stroke="#151515" stroke-width="1" fill="none" />
<path d="M540.2,305.3 V325 Q541.75,326.6 543.3,325 V305.3" stroke="#151515" stroke-width="1" fill="none" />
<path d="M548.4,305.3 V321 Q549.9,322.6 551.4,321 V305.3" stroke="#151515" stroke-width="1" fill="none" />
<path d="M498.4,297.3 L503,293.9 H539 L543.3,297.3" stroke="#151515" stroke-width="1" fill="none" />
<line x1="508.4" y1="293.9" x2="508.4" y2="297.3" stroke="#151515" stroke-width="1" shape-rendering="crispEdges"/>
<line x1="532.8" y1="293.9" x2="532.8" y2="297.3" stroke="#151515" stroke-width="1" shape-rendering="crispEdges"/>
<line x1="402.4" y1="139.2" x2="457.6" y2="139.2" stroke="#151515" stroke-width="1" shape-rendering="crispEdges"/>
<line x1="404.1" y1="139.2" x2="404.1" y2="305.3" stroke="#151515" stroke-width="1" shape-rendering="crispEdges"/>
<polygon points="404.5,139.2 405.9,144.2 403.1,144.2" fill="#151515"/>
<polygon points="404.5,305.3 403.1,300.3 405.9,300.3" fill="#151515"/>
<line x1="402.4" y1="305.3" x2="457.6" y2="305.3" stroke="#151515" stroke-width="1" shape-rendering="crispEdges"/>
<line x1="416.7" y1="172.5" x2="416.7" y2="272.7" stroke="#151515" stroke-width="1" shape-rendering="crispEdges"/>
<polygon points="416.5,172.5 417.9,177.5 415.1,177.5" fill="#151515"/>
<polygon points="416.5,272.7 415.1,267.7 417.9,267.7" fill="#151515"/>
<text transform="translate(402.4 234.77) rotate(-90) scale(0.86 1)" x="3.39 10.18 15.61 23.75 30.54" y="0" font-family="Liberation Serif" font-size="12.37" fill="#151515" text-anchor="middle" stroke="#151515" stroke-width="0.22">31.58</text>
<text transform="translate(416.7 233.73) rotate(-90) scale(0.7 1)" x="3.85 11.56 17.73 26.98 34.69" y="0" font-family="Liberation Serif" font-size="14.05" fill="#151515" text-anchor="middle" stroke="#151515" stroke-width="0.24">19.05</text>
<line x1="559.6" y1="305.3" x2="579" y2="305.3" stroke="#151515" stroke-width="1" shape-rendering="crispEdges"/>
<line x1="551.4" y1="322" x2="579" y2="322" stroke="#151515" stroke-width="1" shape-rendering="crispEdges"/>
<line x1="578" y1="244.5" x2="578" y2="322" stroke="#151515" stroke-width="1" shape-rendering="crispEdges"/>
<polygon points="578.5,305.3 577.1,300.3 579.9,300.3" fill="#151515"/>
<polygon points="578.5,322 579.9,327 577.1,327" fill="#151515"/>
<text transform="translate(577 300.1) rotate(-90) scale(0.8 1)" x="3.85 10.02 19.26 26.97 34.68 42.38 48.55 57.79 65.5" y="0" font-family="Liberation Serif" font-size="14.05" fill="#151515" text-anchor="middle" stroke="#151515" stroke-width="0.22">3.18±0.35</text>
<line x1="457.6" y1="305.3" x2="457.6" y2="364.5" stroke="#151515" stroke-width="1" shape-rendering="crispEdges"/>
<line x1="429" y1="339.4" x2="484.4" y2="339.4" stroke="#151515" stroke-width="1" shape-rendering="crispEdges"/>
<polygon points="484.4,339.5 479.4,340.9 479.4,338.1" fill="#151515"/>
<polygon points="457.6,339.5 462.6,338.1 462.6,340.9" fill="#151515"/>
<line x1="484.4" y1="322" x2="484.4" y2="339.4" stroke="#151515" stroke-width="1" shape-rendering="crispEdges"/>
<text transform="translate(428.54 338.2) scale(0.9 1)" x="3.2 8.32 16.01 22.41" y="0" font-family="Liberation Serif" font-size="12" fill="#151515" text-anchor="middle" stroke="#151515" stroke-width="0.21">5.08</text>
<line x1="429" y1="351.6" x2="494.8" y2="351.6" stroke="#151515" stroke-width="1" shape-rendering="crispEdges"/>
<polygon points="494.8,351.5 489.8,352.9 489.8,350.1" fill="#151515"/>
<polygon points="457.6,351.5 462.6,350.1 462.6,352.9" fill="#151515"/>
<line x1="494.8" y1="322" x2="494.8" y2="351.6" stroke="#151515" stroke-width="1" shape-rendering="crispEdges"/>
<text transform="translate(428.54 350.4) scale(0.9 1)" x="3.2 8.32 16.01 22.41" y="0" font-family="Liberation Serif" font-size="12" fill="#151515" text-anchor="middle" stroke="#151515" stroke-width="0.21">7.06</text>
<line x1="429" y1="363.9" x2="505" y2="363.9" stroke="#151515" stroke-width="1" shape-rendering="crispEdges"/>
<polygon points="505,363.5 500,364.9 500,362.1" fill="#151515"/>
<polygon points="457.6,363.5 462.6,362.1 462.6,364.9" fill="#151515"/>
<line x1="505" y1="322" x2="505" y2="363.9" stroke="#151515" stroke-width="1" shape-rendering="crispEdges"/>
<text transform="translate(428.54 362.7) scale(0.9 1)" x="3.2 8.32 16.01 22.41" y="0" font-family="Liberation Serif" font-size="12" fill="#151515" text-anchor="middle" stroke="#151515" stroke-width="0.21">9.04</text>
<line x1="535" y1="322" x2="535" y2="347" stroke="#151515" stroke-width="1" shape-rendering="crispEdges"/>
<line x1="549.9" y1="322" x2="549.9" y2="347" stroke="#151515" stroke-width="1" shape-rendering="crispEdges"/>
<line x1="505" y1="346.5" x2="535" y2="346.5" stroke="#151515" stroke-width="1" shape-rendering="crispEdges"/>
<polygon points="535,346.5 530,347.9 530,345.1" fill="#151515"/>
<line x1="535" y1="346.5" x2="578" y2="346.5" stroke="#151515" stroke-width="1" shape-rendering="crispEdges"/>
<polygon points="535,346.5 540,345.1 540,347.9" fill="#151515"/>
<polygon points="549.9,346.5 544.9,347.9 544.9,345.1" fill="#151515"/>
<text transform="translate(507.12 345.3) scale(0.94 1)" x="3.2 8.32 16.01 22.41" y="0" font-family="Liberation Serif" font-size="12" fill="#151515" text-anchor="middle" stroke="#151515" stroke-width="0.21">5.62</text>
<text transform="translate(553.02 345.3) scale(0.94 1)" x="3.2 8.32 16.01 22.41" y="0" font-family="Liberation Serif" font-size="12" fill="#151515" text-anchor="middle" stroke="#151515" stroke-width="0.21">2.84</text>
<path d="M139.3,428.5 V403.6 Q139.3,397.6 145.3,397.6 H226.5 Q232.5,397.6 232.5,403.6 V428.5" stroke="#151515" stroke-width="1.2" fill="none" />
<path d="M142.8,428.5 V405 Q142.8,399.2 148.3,398.6" stroke="#151515" stroke-width="0.9" fill="none" />
<path d="M229,428.5 V405 Q229,399.2 223.6,398.6" stroke="#151515" stroke-width="0.9" fill="none" />
<line x1="148.3" y1="397.6" x2="148.3" y2="428.5" stroke="#151515" stroke-width="1" shape-rendering="crispEdges"/>
<line x1="223.6" y1="397.6" x2="223.6" y2="428.5" stroke="#151515" stroke-width="1" shape-rendering="crispEdges"/>
<line x1="232.5" y1="397.6" x2="293.2" y2="397.6" stroke="#151515" stroke-width="1" shape-rendering="crispEdges"/>
<path d="M106.7,428.5 V406 Q106.7,403.4 109.2,403.4 H117.6 Q120.1,403.4 120.1,406 V428.5" stroke="#151515" stroke-width="1" fill="none" />
<path d="M120.1,428.5 V406 Q120.1,403.4 122.6,403.4 H129.8 Q132.3,403.4 132.3,406 V428.5" stroke="#151515" stroke-width="1" fill="none" />
<path d="M239.6,428.5 V406 Q239.6,403.4 242.1,403.4 H248.9 Q251.4,403.4 251.4,406 V428.5" stroke="#151515" stroke-width="1" fill="none" />
<path d="M251.4,428.5 V406 Q251.4,403.4 253.9,403.4 H261.2 Q263.7,403.4 263.7,406 V428.5" stroke="#151515" stroke-width="1" fill="none" />
<line x1="100" y1="428.5" x2="268" y2="428.5" stroke="#151515" stroke-width="1" shape-rendering="crispEdges"/>
<rect x="104.5" y="430.8" width="162.5" height="100.6" stroke="#151515" stroke-width="1" fill="none" shape-rendering="crispEdges"/>
<line x1="104.5" y1="445.7" x2="267" y2="445.7" stroke="#151515" stroke-width="1" shape-rendering="crispEdges"/>
<path d="M149.5,430.8 V441.2 H144.6 V445.7" stroke="#151515" stroke-width="0.9" fill="none" />
<path d="M222.5,430.8 V441.2 H227 V445.7" stroke="#151515" stroke-width="0.9" fill="none" />
<line x1="135.7" y1="445.7" x2="135.7" y2="531.4" stroke="#151515" stroke-width="1" shape-rendering="crispEdges"/>
<line x1="236.5" y1="445.7" x2="236.5" y2="531.4" stroke="#151515" stroke-width="1" shape-rendering="crispEdges"/>
<path d="M140.8,445.7 V494.7 H135.7" stroke="#151515" stroke-width="0.9" fill="none" />
<path d="M230.7,445.7 V494.7 H236.5" stroke="#151515" stroke-width="0.9" fill="none" />
<rect x="158.5" y="454" width="3.4" height="3.4" stroke="#151515" stroke-width="1" fill="none" shape-rendering="crispEdges"/>
<rect x="164.5" y="464.5" width="3.4" height="3.4" stroke="#151515" stroke-width="1" fill="none" shape-rendering="crispEdges"/>
<rect x="158.5" y="475.1" width="3.4" height="3.4" stroke="#151515" stroke-width="1" fill="none" shape-rendering="crispEdges"/>
<rect x="155.1" y="519" width="3.4" height="3.4" stroke="#151515" stroke-width="1" fill="none" shape-rendering="crispEdges"/>
<rect x="170.6" y="454" width="3.4" height="3.4" stroke="#151515" stroke-width="1" fill="none" shape-rendering="crispEdges"/>
<rect x="176.6" y="464.5" width="3.4" height="3.4" stroke="#151515" stroke-width="1" fill="none" shape-rendering="crispEdges"/>
<rect x="170.6" y="475.1" width="3.4" height="3.4" stroke="#151515" stroke-width="1" fill="none" shape-rendering="crispEdges"/>
<rect x="169.7" y="519" width="3.4" height="3.4" stroke="#151515" stroke-width="1" fill="none" shape-rendering="crispEdges"/>
<rect x="182.7" y="454" width="3.4" height="3.4" stroke="#151515" stroke-width="1" fill="none" shape-rendering="crispEdges"/>
<rect x="188.7" y="464.5" width="3.4" height="3.4" stroke="#151515" stroke-width="1" fill="none" shape-rendering="crispEdges"/>
<rect x="182.7" y="475.1" width="3.4" height="3.4" stroke="#151515" stroke-width="1" fill="none" shape-rendering="crispEdges"/>
<rect x="184.3" y="519" width="3.4" height="3.4" stroke="#151515" stroke-width="1" fill="none" shape-rendering="crispEdges"/>
<rect x="194.8" y="454" width="3.4" height="3.4" stroke="#151515" stroke-width="1" fill="none" shape-rendering="crispEdges"/>
<rect x="200.8" y="464.5" width="3.4" height="3.4" stroke="#151515" stroke-width="1" fill="none" shape-rendering="crispEdges"/>
<rect x="194.8" y="475.1" width="3.4" height="3.4" stroke="#151515" stroke-width="1" fill="none" shape-rendering="crispEdges"/>
<rect x="198.9" y="519" width="3.4" height="3.4" stroke="#151515" stroke-width="1" fill="none" shape-rendering="crispEdges"/>
<rect x="206.9" y="454" width="3.4" height="3.4" stroke="#151515" stroke-width="1" fill="none" shape-rendering="crispEdges"/>
<rect x="212.9" y="464.5" width="3.4" height="3.4" stroke="#151515" stroke-width="1" fill="none" shape-rendering="crispEdges"/>
<rect x="206.9" y="475.1" width="3.4" height="3.4" stroke="#151515" stroke-width="1" fill="none" shape-rendering="crispEdges"/>
<rect x="213.5" y="519" width="3.4" height="3.4" stroke="#151515" stroke-width="1" fill="none" shape-rendering="crispEdges"/>
<rect x="162.3" y="504.1" width="3.4" height="3.4" stroke="#151515" stroke-width="1" fill="none" shape-rendering="crispEdges"/>
<rect x="176.8" y="504.1" width="3.4" height="3.4" stroke="#151515" stroke-width="1" fill="none" shape-rendering="crispEdges"/>
<rect x="191.3" y="504.1" width="3.4" height="3.4" stroke="#151515" stroke-width="1" fill="none" shape-rendering="crispEdges"/>
<rect x="205.8" y="504.1" width="3.4" height="3.4" stroke="#151515" stroke-width="1" fill="none" shape-rendering="crispEdges"/>
<circle cx="120.8" cy="471.5" r="8.9" stroke="#151515" stroke-width="1.1" fill="none"/>
<line x1="112.03" y1="470" x2="129.57" y2="470" stroke="#151515" stroke-width="1" shape-rendering="crispEdges"/>
<line x1="112.03" y1="473" x2="129.57" y2="473" stroke="#151515" stroke-width="1" shape-rendering="crispEdges"/>
<line x1="118.9" y1="473" x2="118.9" y2="480.19" stroke="#151515" stroke-width="1" shape-rendering="crispEdges"/>
<line x1="122.7" y1="473" x2="122.7" y2="480.19" stroke="#151515" stroke-width="1" shape-rendering="crispEdges"/>
<circle cx="120.8" cy="513.6" r="8.9" stroke="#151515" stroke-width="1.1" fill="none"/>
<line x1="112.03" y1="512.1" x2="129.57" y2="512.1" stroke="#151515" stroke-width="1" shape-rendering="crispEdges"/>
<line x1="112.03" y1="515.1" x2="129.57" y2="515.1" stroke="#151515" stroke-width="1" shape-rendering="crispEdges"/>
<line x1="118.9" y1="504.91" x2="118.9" y2="512.1" stroke="#151515" stroke-width="1" shape-rendering="crispEdges"/>
<line x1="122.7" y1="504.91" x2="122.7" y2="512.1" stroke="#151515" stroke-width="1" shape-rendering="crispEdges"/>
<circle cx="120.8" cy="492.4" r="5.9" stroke="#151515" stroke-width="1" fill="none"/>
<circle cx="120.8" cy="492.4" r="3.8" stroke="#151515" stroke-width="1" fill="none"/>
<circle cx="252.1" cy="471.5" r="8.9" stroke="#151515" stroke-width="1.1" fill="none"/>
<line x1="243.33" y1="470" x2="260.87" y2="470" stroke="#151515" stroke-width="1" shape-rendering="crispEdges"/>
<line x1="243.33" y1="473" x2="260.87" y2="473" stroke="#151515" stroke-width="1" shape-rendering="crispEdges"/>
<line x1="250.2" y1="473" x2="250.2" y2="480.19" stroke="#151515" stroke-width="1" shape-rendering="crispEdges"/>
<line x1="254" y1="473" x2="254" y2="480.19" stroke="#151515" stroke-width="1" shape-rendering="crispEdges"/>
<circle cx="252.1" cy="513.6" r="8.9" stroke="#151515" stroke-width="1.1" fill="none"/>
<line x1="243.33" y1="512.1" x2="260.87" y2="512.1" stroke="#151515" stroke-width="1" shape-rendering="crispEdges"/>
<line x1="243.33" y1="515.1" x2="260.87" y2="515.1" stroke="#151515" stroke-width="1" shape-rendering="crispEdges"/>
<line x1="250.2" y1="504.91" x2="250.2" y2="512.1" stroke="#151515" stroke-width="1" shape-rendering="crispEdges"/>
<line x1="254" y1="504.91" x2="254" y2="512.1" stroke="#151515" stroke-width="1" shape-rendering="crispEdges"/>
<circle cx="252.1" cy="492.4" r="5.9" stroke="#151515" stroke-width="1" fill="none"/>
<circle cx="252.1" cy="492.4" r="3.8" stroke="#151515" stroke-width="1" fill="none"/>
<line x1="185.8" y1="384.5" x2="185.8" y2="538" stroke="#151515" stroke-width="1" shape-rendering="crispEdges" stroke-dasharray="7,4"/>
<line x1="100" y1="403.4" x2="106.7" y2="403.4" stroke="#151515" stroke-width="1" shape-rendering="crispEdges"/>
<line x1="100" y1="403.4" x2="100" y2="513.6" stroke="#151515" stroke-width="1" shape-rendering="crispEdges"/>
<polygon points="100.5,403.4 101.9,408.4 99.1,408.4" fill="#151515"/>
<polygon points="100.5,428.5 99.1,423.5 101.9,423.5" fill="#151515"/>
<polygon points="100.5,430.8 101.9,435.8 99.1,435.8" fill="#151515"/>
<polygon points="100.5,471.3 99.1,466.3 101.9,466.3" fill="#151515"/>
<polygon points="100.5,513.6 99.1,508.6 101.9,508.6" fill="#151515"/>
<line x1="100" y1="471.5" x2="112" y2="471.5" stroke="#151515" stroke-width="1" shape-rendering="crispEdges"/>
<line x1="100" y1="513.6" x2="112" y2="513.6" stroke="#151515" stroke-width="1" shape-rendering="crispEdges"/>
<text transform="translate(100 428.38) rotate(-90) scale(0.96 1)" x="3.14 8.15 15.68 21.95" y="0" font-family="Liberation Serif" font-size="11.76" fill="#151515" text-anchor="middle" stroke="#151515" stroke-width="0.2">4.80</text>
<text transform="translate(100 462.88) rotate(-90) scale(0.96 1)" x="3.14 8.15 15.68 21.95" y="0" font-family="Liberation Serif" font-size="11.76" fill="#151515" text-anchor="middle" stroke="#151515" stroke-width="0.2">8.08</text>
<text transform="translate(100 504.06) rotate(-90) scale(0.91 1)" x="3.14 8.15 15.68 21.95" y="0" font-family="Liberation Serif" font-size="11.76" fill="#151515" text-anchor="middle" stroke="#151515" stroke-width="0.21">8.00</text>
<line x1="280.2" y1="397.6" x2="280.2" y2="428.8" stroke="#151515" stroke-width="1" shape-rendering="crispEdges"/>
<polygon points="280.5,397.6 281.9,402.6 279.1,402.6" fill="#151515"/>
<polygon points="280.5,428.8 279.1,423.8 281.9,423.8" fill="#151515"/>
<line x1="292.4" y1="397.6" x2="292.4" y2="428.8" stroke="#151515" stroke-width="1" shape-rendering="crispEdges"/>
<polygon points="292.5,397.6 293.9,402.6 291.1,402.6" fill="#151515"/>
<polygon points="292.5,428.8 291.1,423.8 293.9,423.8" fill="#151515"/>
<line x1="268" y1="428.8" x2="293.2" y2="428.8" stroke="#151515" stroke-width="1" shape-rendering="crispEdges"/>
<text transform="translate(278.4 425.25) rotate(-90) scale(0.84 1)" x="3.34 8.68 16.7 23.38" y="0" font-family="Liberation Serif" font-size="12.52" fill="#151515" text-anchor="middle" stroke="#151515" stroke-width="0.22">5.90</text>
<text transform="translate(291.5 425.25) rotate(-90) scale(0.84 1)" x="3.34 8.68 16.7 23.38" y="0" font-family="Liberation Serif" font-size="12.52" fill="#151515" text-anchor="middle" stroke="#151515" stroke-width="0.22">6.00</text>
<circle cx="473.9" cy="427.7" r="2.7" stroke="#151515" stroke-width="1.1" fill="none"/>
<circle cx="488.5" cy="427.7" r="2.7" stroke="#151515" stroke-width="1.1" fill="none"/>
<circle cx="503.1" cy="427.7" r="2.7" stroke="#151515" stroke-width="1.1" fill="none"/>
<circle cx="517.7" cy="427.7" r="2.7" stroke="#151515" stroke-width="1.1" fill="none"/>
<circle cx="532.3" cy="427.7" r="2.7" stroke="#151515" stroke-width="1.1" fill="none"/>
<circle cx="481.2" cy="443" r="2.7" stroke="#151515" stroke-width="1.1" fill="none"/>
<circle cx="495.8" cy="443" r="2.7" stroke="#151515" stroke-width="1.1" fill="none"/>
<circle cx="510.4" cy="443" r="2.7" stroke="#151515" stroke-width="1.1" fill="none"/>
<circle cx="525" cy="443" r="2.7" stroke="#151515" stroke-width="1.1" fill="none"/>
<circle cx="477.8" cy="472.4" r="2.7" stroke="#151515" stroke-width="1.1" fill="none"/>
<circle cx="489.8" cy="472.4" r="2.7" stroke="#151515" stroke-width="1.1" fill="none"/>
<circle cx="501.8" cy="472.4" r="2.7" stroke="#151515" stroke-width="1.1" fill="none"/>
<circle cx="513.8" cy="472.4" r="2.7" stroke="#151515" stroke-width="1.1" fill="none"/>
<circle cx="525.8" cy="472.4" r="2.7" stroke="#151515" stroke-width="1.1" fill="none"/>
<circle cx="483.8" cy="482.3" r="2.7" stroke="#151515" stroke-width="1.1" fill="none"/>
<circle cx="495.8" cy="482.3" r="2.7" stroke="#151515" stroke-width="1.1" fill="none"/>
<circle cx="507.8" cy="482.3" r="2.7" stroke="#151515" stroke-width="1.1" fill="none"/>
<circle cx="519.8" cy="482.3" r="2.7" stroke="#151515" stroke-width="1.1" fill="none"/>
<circle cx="531.8" cy="482.3" r="2.7" stroke="#151515" stroke-width="1.1" fill="none"/>
<circle cx="477.8" cy="493.2" r="2.7" stroke="#151515" stroke-width="1.1" fill="none"/>
<circle cx="489.8" cy="493.2" r="2.7" stroke="#151515" stroke-width="1.1" fill="none"/>
<circle cx="501.8" cy="493.2" r="2.7" stroke="#151515" stroke-width="1.1" fill="none"/>
<circle cx="513.8" cy="493.2" r="2.7" stroke="#151515" stroke-width="1.1" fill="none"/>
<circle cx="525.8" cy="493.2" r="2.7" stroke="#151515" stroke-width="1.1" fill="none"/>
<circle cx="437" cy="434.7" r="9.4" stroke="#151515" stroke-width="1.1" fill="none"/>
<circle cx="568.7" cy="434.7" r="9.4" stroke="#151515" stroke-width="1.1" fill="none"/>
<circle cx="437" cy="477" r="9.4" stroke="#151515" stroke-width="1.1" fill="none"/>
<circle cx="568.7" cy="477" r="9.4" stroke="#151515" stroke-width="1.1" fill="none"/>
<line x1="503" y1="421" x2="503" y2="517" stroke="#151515" stroke-width="1" shape-rendering="crispEdges" stroke-dasharray="7,5"/>
<line x1="412.9" y1="519.7" x2="589.5" y2="519.7" stroke="#151515" stroke-width="1" shape-rendering="crispEdges"/>
<line x1="437.5" y1="388.8" x2="437.5" y2="434.7" stroke="#151515" stroke-width="1" shape-rendering="crispEdges"/>
<line x1="569.5" y1="388.8" x2="569.5" y2="434.7" stroke="#151515" stroke-width="1" shape-rendering="crispEdges"/>
<line x1="437.5" y1="389.8" x2="569.5" y2="389.8" stroke="#151515" stroke-width="1" shape-rendering="crispEdges"/>
<polygon points="437.5,389.5 442.5,388.1 442.5,390.9" fill="#151515"/>
<polygon points="569.5,389.5 564.5,390.9 564.5,388.1" fill="#151515"/>
<text transform="translate(487.73 389.5) scale(0.89 1)" x="3.29 9.88 15.15 23.05 29.63" y="0" font-family="Liberation Serif" font-size="12" fill="#151515" text-anchor="middle" stroke="#151515" stroke-width="0.21">24.99</text>
<line x1="473.9" y1="402.6" x2="473.9" y2="425" stroke="#151515" stroke-width="1" shape-rendering="crispEdges"/>
<line x1="532.3" y1="402.6" x2="532.3" y2="425" stroke="#151515" stroke-width="1" shape-rendering="crispEdges"/>
<line x1="473.9" y1="403.6" x2="532.3" y2="403.6" stroke="#151515" stroke-width="1" shape-rendering="crispEdges"/>
<polygon points="473.9,403.5 478.9,402.1 478.9,404.9" fill="#151515"/>
<polygon points="532.3,403.5 527.3,404.9 527.3,402.1" fill="#151515"/>
<text transform="translate(490.36 402.8) scale(0.84 1)" x="3.29 9.88 15.15 23.05 29.63" y="0" font-family="Liberation Serif" font-size="12" fill="#151515" text-anchor="middle" stroke="#151515" stroke-width="0.22">11.08</text>
<line x1="488.4" y1="415" x2="488.4" y2="425" stroke="#151515" stroke-width="1" shape-rendering="crispEdges"/>
<line x1="473.9" y1="416" x2="488.4" y2="416" stroke="#151515" stroke-width="1" shape-rendering="crispEdges"/>
<polygon points="473.9,416.5 478.9,415.1 478.9,417.9" fill="#151515"/>
<polygon points="488.4,416.5 483.4,417.9 483.4,415.1" fill="#151515"/>
<line x1="488.4" y1="416" x2="527.1" y2="416" stroke="#151515" stroke-width="1" shape-rendering="crispEdges"/>
<text transform="translate(504.55 415.2) scale(0.88 1)" x="3.2 8.32 16.01 22.41" y="0" font-family="Liberation Serif" font-size="12" fill="#151515" text-anchor="middle" stroke="#151515" stroke-width="0.21">2.77</text>
<text transform="translate(398.55 398.5) scale(0.78 1)" x="3.6 10.81 18.02 23.79 32.44 39.65" y="0" font-family="Liberation Serif" font-size="11.5" fill="#151515" text-anchor="middle" stroke="#151515" stroke-width="0.23">POS.#1</text>
<line x1="399" y1="399.9" x2="437.5" y2="399.9" stroke="#151515" stroke-width="1" shape-rendering="crispEdges"/>
<line x1="437.5" y1="399.9" x2="472" y2="425.5" stroke="#151515" stroke-width="0.8"/>
<text transform="translate(570.83 392.5) scale(0.85 1)" x="3.49 10.47 17.44 24.42 31.4 36.98 45.35 52.33" y="0" font-family="Liberation Serif" font-size="12" fill="#151515" text-anchor="middle" stroke="#151515" stroke-width="0.22">24-Φ1.10</text>
<line x1="570" y1="393.9" x2="619.4" y2="393.9" stroke="#151515" stroke-width="1" shape-rendering="crispEdges"/>
<line x1="570" y1="393.9" x2="534" y2="425.8" stroke="#151515" stroke-width="0.8"/>
<text transform="translate(595.53 409.6) scale(0.84 1)" x="3.46 10.39 17.32 24.25 29.79 38.1 45.03" y="0" font-family="Liberation Serif" font-size="12" fill="#151515" text-anchor="middle" stroke="#151515" stroke-width="0.22">4-Φ3.20</text>
<line x1="594.7" y1="411" x2="637.5" y2="411" stroke="#151515" stroke-width="1" shape-rendering="crispEdges"/>
<line x1="594.7" y1="411" x2="570" y2="433.4" stroke="#151515" stroke-width="0.8"/>
<text transform="translate(546.25 456.5) scale(0.79 1)" x="3.6 10.81 18.02 23.79 32.44 39.65" y="0" font-family="Liberation Serif" font-size="11.5" fill="#151515" text-anchor="middle" stroke="#151515" stroke-width="0.23">POS.#1</text>
<line x1="540" y1="458" x2="582" y2="458" stroke="#151515" stroke-width="1" shape-rendering="crispEdges"/>
<line x1="540" y1="458" x2="527.5" y2="470.5" stroke="#151515" stroke-width="0.8"/>
<line x1="570" y1="434.7" x2="590.5" y2="434.7" stroke="#151515" stroke-width="1" shape-rendering="crispEdges"/>
<line x1="570" y1="477" x2="590.5" y2="477" stroke="#151515" stroke-width="1" shape-rendering="crispEdges"/>
<line x1="588.3" y1="434.7" x2="588.3" y2="519.7" stroke="#151515" stroke-width="1" shape-rendering="crispEdges"/>
<polygon points="588.5,434.7 589.9,439.7 587.1,439.7" fill="#151515"/>
<polygon points="588.5,477 587.1,472 589.9,472" fill="#151515"/>
<polygon points="588.5,477 589.9,482 587.1,482" fill="#151515"/>
<polygon points="588.5,519.7 587.1,514.7 589.9,514.7" fill="#151515"/>
<text transform="translate(587.6 467.6) rotate(-90) scale(0.71 1)" x="3.5 9.11 17.51 24.52" y="0" font-family="Liberation Serif" font-size="13.13" fill="#151515" text-anchor="middle" stroke="#151515" stroke-width="0.24">8.00</text>
<text transform="translate(587.6 510.42) rotate(-90) scale(0.76 1)" x="3.5 9.11 17.51 24.52" y="0" font-family="Liberation Serif" font-size="13.13" fill="#151515" text-anchor="middle" stroke="#151515" stroke-width="0.23">8.08</text>
<line x1="392" y1="390.6" x2="392" y2="528.3" stroke="#151515" stroke-width="1" shape-rendering="crispEdges"/>
<line x1="391.5" y1="427.7" x2="473.9" y2="427.7" stroke="#151515" stroke-width="1" shape-rendering="crispEdges"/>
<line x1="391.5" y1="443" x2="481.2" y2="443" stroke="#151515" stroke-width="1" shape-rendering="crispEdges"/>
<line x1="391.5" y1="472.4" x2="477.8" y2="472.4" stroke="#151515" stroke-width="1" shape-rendering="crispEdges"/>
<line x1="391.5" y1="493.2" x2="477.8" y2="493.2" stroke="#151515" stroke-width="1" shape-rendering="crispEdges"/>
<polygon points="392.5,427.7 391.1,422.7 393.9,422.7" fill="#151515"/>
<polygon points="392.5,443 393.9,448 391.1,448" fill="#151515"/>
<polygon points="392.5,472.4 391.1,467.4 393.9,467.4" fill="#151515"/>
<polygon points="392.5,493.2 391.1,488.2 393.9,488.2" fill="#151515"/>
<text transform="translate(391.6 410.37) rotate(-90) scale(0.78 1)" x="2.97 7.73 14.87 20.81" y="0" font-family="Liberation Serif" font-size="11.15" fill="#151515" text-anchor="middle" stroke="#151515" stroke-width="0.23">2.84</text>
<text transform="translate(391.6 468.9) rotate(-90) scale(0.84 1)" x="2.97 7.73 14.87 20.81" y="0" font-family="Liberation Serif" font-size="11.15" fill="#151515" text-anchor="middle" stroke="#151515" stroke-width="0.22">5.62</text>
<text transform="translate(391.6 528.62) rotate(-90) scale(0.89 1)" x="2.97 7.73 14.87 20.81" y="0" font-family="Liberation Serif" font-size="11.15" fill="#151515" text-anchor="middle" stroke="#151515" stroke-width="0.21">3.96</text>
<line x1="412.9" y1="443" x2="412.9" y2="482.3" stroke="#151515" stroke-width="1" shape-rendering="crispEdges"/>
<line x1="412.9" y1="493.2" x2="412.9" y2="555.5" stroke="#151515" stroke-width="1" shape-rendering="crispEdges"/>
<line x1="412.9" y1="482.3" x2="483.8" y2="482.3" stroke="#151515" stroke-width="1" shape-rendering="crispEdges"/>
<polygon points="412.5,443 413.9,448 411.1,448" fill="#151515"/>
<polygon points="412.5,482.3 411.1,477.3 413.9,477.3" fill="#151515"/>
<polygon points="412.5,493.2 413.9,498.2 411.1,498.2" fill="#151515"/>
<polygon points="412.5,519.7 411.1,514.7 413.9,514.7" fill="#151515"/>
<line x1="412.5" y1="493.2" x2="420" y2="493.2" stroke="#151515" stroke-width="1" shape-rendering="crispEdges"/>
<text transform="translate(412.3 466.43) rotate(-90) scale(0.78 1)" x="3.46 9 17.31 24.23" y="0" font-family="Liberation Serif" font-size="12.98" fill="#151515" text-anchor="middle" stroke="#151515" stroke-width="0.23">1.98</text>
<text transform="translate(412.3 554.63) rotate(-90) scale(0.77 1)" x="3.46 9 17.31 24.23" y="0" font-family="Liberation Serif" font-size="12.98" fill="#151515" text-anchor="middle" stroke="#151515" stroke-width="0.23">5.08</text>
<line x1="503" y1="493.2" x2="503" y2="504" stroke="#151515" stroke-width="2" shape-rendering="crispEdges"/>
<line x1="513.6" y1="493.2" x2="513.6" y2="504" stroke="#151515" stroke-width="1" shape-rendering="crispEdges"/>
<line x1="525.8" y1="493.2" x2="525.8" y2="504" stroke="#151515" stroke-width="1" shape-rendering="crispEdges"/>
<line x1="468.7" y1="504" x2="554.4" y2="504" stroke="#151515" stroke-width="1" shape-rendering="crispEdges"/>
<polygon points="503,504.5 498,505.9 498,503.1" fill="#151515"/>
<polygon points="513.6,504.5 518.6,503.1 518.6,505.9" fill="#151515"/>
<polygon points="525.8,504.5 520.8,505.9 520.8,503.1" fill="#151515"/>
<text transform="translate(468.25 503) scale(0.89 1)" x="3.2 8.32 16.01 22.41" y="0" font-family="Liberation Serif" font-size="12" fill="#151515" text-anchor="middle" stroke="#151515" stroke-width="0.21">0.25</text>
<text transform="translate(530.55 503) scale(0.88 1)" x="3.2 8.32 16.01 22.41" y="0" font-family="Liberation Serif" font-size="12" fill="#151515" text-anchor="middle" stroke="#151515" stroke-width="0.21">2.29</text>
<text x="503" y="534.3" font-family="Liberation Serif" font-size="15" fill="#151515" textLength="8.5" lengthAdjust="spacingAndGlyphs">C</text>
<text x="505" y="542.7" font-family="Liberation Serif" font-size="15" fill="#151515" textLength="8" lengthAdjust="spacingAndGlyphs">L</text>
<line x1="527" y1="519.7" x2="557" y2="551.6" stroke="#151515" stroke-width="0.8"/>
<line x1="557" y1="551.6" x2="568.7" y2="551.6" stroke="#151515" stroke-width="1" shape-rendering="crispEdges"/>
<text transform="translate(568.26 555.7) scale(0.65 1)" x="4.21 12.64 21.06 29.49 37.91 46.34 54.77 63.19" y="0" font-family="Liberation Serif" font-size="11.5" fill="#151515" text-anchor="middle" stroke="#151515" stroke-width="0.25">PCB EDGE</text>
<text transform="translate(696.55 290) scale(0.67 1)" x="4.15 12.46 20.76 29.07 37.37 45.67 53.98 62.28 70.59 78.89 87.2 95.5 103.81 112.11 120.41 128.72" y="0" font-family="Liberation Serif" font-size="11.6" fill="#151515" text-anchor="middle" stroke="#151515" stroke-width="0.24">CHARACTERISTICS:</text>
<text x="703.7" y="303.2" font-family="Liberation Serif" font-size="11.52" fill="#151515" textLength="5.1" lengthAdjust="spacingAndGlyphs">1</text>
<path d="M710.8,299.3 L714.6,302.2 L714,302.8 Z" stroke="#151515" stroke-width="0.6" fill="#151515" />
<text transform="translate(719.85 303.2) scale(0.68 1)" x="4.12 12.35 20.58 28.81 37.05 45.28 53.51 61.74 69.98 78.21 86.44 94.67 102.91 111.14 119.37 127.6 135.84 144.07 152.3" y="0" font-family="Liberation Serif" font-size="11.6" fill="#151515" text-anchor="middle" stroke="#151515" stroke-width="0.24">RATED VOLTAGE: 250V</text>
<text x="703.7" y="315.8" font-family="Liberation Serif" font-size="11.82" fill="#151515" textLength="5.1" lengthAdjust="spacingAndGlyphs">2</text>
<path d="M710.8,311.9 L714.6,314.8 L714,315.4 Z" stroke="#151515" stroke-width="0.6" fill="#151515" />
<text transform="translate(719.85 315.8) scale(0.66 1)" x="4.25 12.74 21.23 29.72 38.21 46.71 55.2 63.69 72.18 80.68 89.17 97.66 106.15 114.64 123.14 131.63 140.12 148.61 157.11 165.6" y="0" font-family="Liberation Serif" font-size="11.91" fill="#151515" text-anchor="middle" stroke="#151515" stroke-width="0.25">RATED CURRENT: 3 AMP</text>
<text x="703.7" y="329.1" font-family="Liberation Serif" font-size="11.97" fill="#151515" textLength="5.1" lengthAdjust="spacingAndGlyphs">3</text>
<path d="M710.8,325.2 L714.6,328.1 L714,328.7 Z" stroke="#151515" stroke-width="0.6" fill="#151515" />
<text transform="translate(719.85 329.1) scale(0.63 1)" x="4.48 13.44 22.4 31.36 40.32 49.28 58.24 67.2 76.16 85.12 94.08 103.04 112 120.97 129.93 138.89 147.85 156.81 165.77 174.73 183.69 192.65 201.61 210.57 219.53 228.49 237.45 246.41 255.37 264.33 273.29 282.25" y="0" font-family="Liberation Serif" font-size="12.06" fill="#151515" text-anchor="middle" stroke="#151515" stroke-width="0.25">CONTACT RESISTANCE: 30mΩ MAXIMUM</text>
<text x="703.7" y="343.2" font-family="Liberation Serif" font-size="11.97" fill="#151515" textLength="5.1" lengthAdjust="spacingAndGlyphs">4</text>
<path d="M710.8,339.3 L714.6,342.2 L714,342.8 Z" stroke="#151515" stroke-width="0.6" fill="#151515" />
<text transform="translate(719.85 343.2) scale(0.69 1)" x="4.11 12.33 20.55 28.77 36.99 45.21 53.43 61.65 69.86 78.08 86.3 94.52 102.74 110.96 119.18 127.4 135.62 143.84 152.06 160.28 168.5 176.72 184.94 193.16 201.37 209.59 217.81 226.03 234.25 242.47 250.69 258.91 267.13 275.35 283.57 291.79 300.01 308.23 316.45 324.67 332.88 341.1 349.32 357.54 365.76 373.98 382.2 390.42 398.64" y="0" font-family="Liberation Serif" font-size="12.06" fill="#151515" text-anchor="middle" stroke="#151515" stroke-width="0.24">INSULATION RESISTANCE: 1000 mΩ MINIMUM AT DC 500V</text>
<text x="703.7" y="357" font-family="Liberation Serif" font-size="11.52" fill="#151515" textLength="5.1" lengthAdjust="spacingAndGlyphs">5</text>
<path d="M710.8,353.1 L714.6,356 L714,356.6 Z" stroke="#151515" stroke-width="0.6" fill="#151515" />
<text transform="translate(719.85 357) scale(0.73 1)" x="3.84 11.53 19.21 26.89 34.58 42.26 49.95 57.63 65.32 73 80.68 88.37 96.05 103.74 111.42 119.11 126.79 134.47 142.16 149.84 157.53 165.21 172.9 180.58 188.26 195.95 203.63 211.32 219 226.69 234.37 242.05 249.74 257.42 265.11 272.79 280.48 288.16 295.84 303.53 311.21 318.9 326.58 334.27 341.95 349.63 357.32 365 372.69 380.37 388.06" y="0" font-family="Liberation Serif" font-size="11.6" fill="#151515" text-anchor="middle" stroke="#151515" stroke-width="0.23">EIECTRIC PRESSURE: KEEPING 60 SECOND IN AC 500V/1mA</text>
<text x="703.7" y="370" font-family="Liberation Serif" font-size="11.82" fill="#151515" textLength="5.1" lengthAdjust="spacingAndGlyphs">6</text>
<path d="M710.8,366.1 L714.6,369 L714,369.6 Z" stroke="#151515" stroke-width="0.6" fill="#151515" />
<text transform="translate(719.85 370) scale(0.71 1)" x="3.97 11.91 19.85 27.78 35.72 43.66 51.6 59.54 67.48 75.41 83.35 91.29 99.23 107.17 115.11 123.05 130.98 138.92 146.86 154.8 162.74 170.68 178.61 186.55 194.49 202.43 210.37 218.31 226.24 234.18 242.12 250.06 258 265.94 273.88 281.81 289.75 297.69" y="0" font-family="Liberation Serif" font-size="11.91" fill="#151515" text-anchor="middle" stroke="#151515" stroke-width="0.24">OPERATING TEMPERATURE:-55° C TO 105° C</text>
<text x="687.6" y="437.6" font-family="Liberation Sans" font-size="18.9" fill="#3a3a3a" textLength="95.4" lengthAdjust="spacing">01.SC0024</text>
<text x="796.5" y="437.6" font-family="Liberation Sans" font-size="18.9" fill="#3a3a3a" textLength="10.1" lengthAdjust="spacingAndGlyphs">X</text>
<text x="819.7" y="437.6" font-family="Liberation Sans" font-size="18.9" fill="#3a3a3a" textLength="9.7" lengthAdjust="spacingAndGlyphs">X</text>
<text x="842.6" y="437.6" font-family="Liberation Sans" font-size="18.9" fill="#3a3a3a" textLength="33.9" lengthAdjust="spacingAndGlyphs">XXX</text>
<text x="888.9" y="437.6" font-family="Liberation Sans" font-size="18.9" fill="#3a3a3a" textLength="21.9" lengthAdjust="spacingAndGlyphs">XX</text>
<text x="922.7" y="437.8" font-family="Liberation Sans" font-size="19.14" fill="#3a3a3a" textLength="11.3" lengthAdjust="spacingAndGlyphs">C</text>
<text x="947.5" y="437.6" font-family="Liberation Sans" font-size="18.9" fill="#3a3a3a" textLength="19.5" lengthAdjust="spacingAndGlyphs">01</text>
<line x1="763.1" y1="442.6" x2="784.1" y2="442.6" stroke="#151515" stroke-width="1" shape-rendering="crispEdges"/>
<line x1="797" y1="442.6" x2="808.6" y2="442.6" stroke="#151515" stroke-width="1" shape-rendering="crispEdges"/>
<line x1="819.7" y1="442.6" x2="830.8" y2="442.6" stroke="#151515" stroke-width="1" shape-rendering="crispEdges"/>
<line x1="842" y1="442.6" x2="877" y2="442.6" stroke="#151515" stroke-width="1" shape-rendering="crispEdges"/>
<line x1="888.1" y1="442.6" x2="911.7" y2="442.6" stroke="#151515" stroke-width="1" shape-rendering="crispEdges"/>
<line x1="921.8" y1="442.6" x2="933.8" y2="442.6" stroke="#151515" stroke-width="1" shape-rendering="crispEdges"/>
<line x1="944.6" y1="442.6" x2="968" y2="442.6" stroke="#151515" stroke-width="1" shape-rendering="crispEdges"/>
<polyline points="773.7,442.6 773.7,468.8 743.3,468.8" stroke="#151515" stroke-width="1.2" fill="none"/>
<polyline points="803,442.6 803,496.1 758,496.1" stroke="#151515" stroke-width="1.2" fill="none"/>
<polyline points="825.3,442.6 825.3,521.1 739.4,521.1" stroke="#151515" stroke-width="1.2" fill="none"/>
<line x1="859.8" y1="442.6" x2="859.8" y2="549.5" stroke="#151515" stroke-width="1" shape-rendering="crispEdges"/>
<line x1="730.8" y1="549.5" x2="993" y2="549.5" stroke="#151515" stroke-width="1" shape-rendering="crispEdges"/>
<polyline points="900,442.6 900,504 978.8,504" stroke="#151515" stroke-width="1.2" fill="none"/>
<polyline points="927.5,442.6 927.5,486.3 946.5,486.3" stroke="#151515" stroke-width="1.2" fill="none"/>
<polyline points="956,442.6 956,468.8 994,468.8" stroke="#151515" stroke-width="1.2" fill="none"/>
<text transform="translate(681.5 470.7) scale(0.96 1)" x="3.25 9.75 16.25 22.75 29.25 35.75 42.25 48.75 55.25" y="0" font-family="Liberation Serif" font-size="11.91" fill="#151515" text-anchor="middle" stroke="#151515" stroke-width="0.2">PIN Poles</text>
<text transform="translate(680.67 481.8) scale(0.8 1)" x="3.35 10.05 16.74 23.44 30.14 36.84 43.54 50.23" y="0" font-family="Liberation Serif" font-size="11.3" fill="#151515" text-anchor="middle" stroke="#151515" stroke-width="0.22">24:24PIN</text>
<text transform="translate(680.11 499.6) scale(0.86 1)" x="3.59 10.76 17.93 25.11 32.28 39.46 46.63 53.8 60.98 68.15 75.33 82.5" y="0" font-family="Liberation Serif" font-size="12.52" fill="#151515" text-anchor="middle" stroke="#151515" stroke-width="0.22">Fixed Code:X</text>
<text transform="translate(679.71 524.5) scale(0.85 1)" x="3.6 10.79 17.98 25.17 32.37 39.56 46.75 53.95 61.14" y="0" font-family="Liberation Serif" font-size="12.82" fill="#151515" text-anchor="middle" stroke="#151515" stroke-width="0.22">Hsg Color</text>
<text transform="translate(679.78 536) scale(0.81 1)" x="3.22 9.66 16.1 22.54 28.98 35.42 41.86 48.3 54.74 61.17 67.61 74.05 80.49 86.93 93.37 99.81 106.25 112.69 119.13 125.57 132.01 138.45 144.89" y="0" font-family="Liberation Serif" font-size="11.45" fill="#151515" text-anchor="middle" stroke="#151515" stroke-width="0.22">1=Black  2=White 3=Blue</text>
<text transform="translate(996.81 472.6) scale(0.88 1)" x="3.49 10.46 17.44 24.41 31.39 38.36 45.34 52.32 59.29 66.27" y="0" font-family="Liberation Serif" font-size="11.91" fill="#151515" text-anchor="middle" stroke="#151515" stroke-width="0.21">Water Code</text>
<text transform="translate(946.61 489.5) scale(0.98 1)" x="3.16 9.48 15.79 22.11 28.43 34.74 41.06 47.38 53.7 60.01 66.33 72.65 78.96 85.28 91.6 97.92 104.23 110.55" y="0" font-family="Liberation Serif" font-size="12.3" fill="#151515" text-anchor="middle" stroke="#151515" stroke-width="0.2">Specification Type</text>
<text transform="translate(984.01 508) scale(0.88 1)" x="3.5 10.5 17.51 24.51 31.51 38.52 45.52 52.52 59.53 66.53 73.53 80.54" y="0" font-family="Liberation Serif" font-size="13.13" fill="#151515" text-anchor="middle" stroke="#151515" stroke-width="0.21">Hsg Material</text>
<text transform="translate(984.08 523) scale(0.71 1)" x="3.75 11.24 18.74 26.23 33.73 41.22 48.72 56.21 63.7 71.2 78.69 86.19 93.68" y="0" font-family="Liberation Serif" font-size="10.99" fill="#151515" text-anchor="middle" stroke="#151515" stroke-width="0.24">H5=LCP 10=PBT</text>
<text transform="translate(984.09 535.2) scale(0.72 1)" x="3.52 10.57 17.61 24.66 31.7 38.75 45.79" y="0" font-family="Liberation Serif" font-size="10.23" fill="#151515" text-anchor="middle" stroke="#151515" stroke-width="0.24">12=PA9T</text>
<text transform="translate(678.99 550.9) scale(1 1)" x="3.17 9.5 15.83 22.17 28.5 34.83 41.17" y="0" font-family="Liberation Serif" font-size="12.3" fill="#151515" text-anchor="middle" stroke="#151515" stroke-width="0.2">Plating</text>
<text transform="translate(678.17 562.9) scale(0.94 1)" x="2.84 8.53 14.21 19.89 25.58 31.26 36.94 42.63 48.31 53.99 59.68 65.36 71.05 76.73" y="0" font-family="Liberation Serif" font-size="10.53" fill="#151515" text-anchor="middle" stroke="#151515" stroke-width="0.21">G00:Gold flash</text>
<text transform="translate(678.17 574.1) scale(0.84 1)" x="3.15 9.46 15.76 22.06 28.37 34.67 40.98 47.28 53.59 59.89 66.19 72.5" y="0" font-family="Liberation Serif" font-size="10.53" fill="#151515" text-anchor="middle" stroke="#151515" stroke-width="0.22">G01:Gold 1U″</text>
<text transform="translate(678.17 586.2) scale(0.84 1)" x="3.15 9.46 15.76 22.06 28.37 34.67 40.98 47.28 53.59 59.89 66.19 72.5" y="0" font-family="Liberation Serif" font-size="10.53" fill="#151515" text-anchor="middle" stroke="#151515" stroke-width="0.22">G03:Gold 3U″</text>
<text transform="translate(678.16 598.6) scale(0.81 1)" x="3.38 10.13 16.88 23.63 30.39 37.14 43.89 50.64 57.4 64.15 70.9 77.65 84.41" y="0" font-family="Liberation Serif" font-size="10.53" fill="#151515" text-anchor="middle" stroke="#151515" stroke-width="0.22">Gxx:Gold XXU″</text>
<text transform="translate(773.48 562.9) scale(0.95 1)" x="2.79 8.37 13.96 19.54 25.12 30.7 36.29 41.87 47.45 53.03 58.61 64.2 69.78 75.36" y="0" font-family="Liberation Serif" font-size="10.53" fill="#151515" text-anchor="middle" stroke="#151515" stroke-width="0.21">B00:Braight sn</text>
<text transform="translate(773.47 574.1) scale(0.95 1)" x="2.84 8.53 14.22 19.91 25.6 31.29 36.98 42.67 48.36 54.05 59.74 65.43 71.12 76.81 82.5 88.19 93.88 99.57" y="0" font-family="Liberation Serif" font-size="10.53" fill="#151515" text-anchor="middle" stroke="#151515" stroke-width="0.21">B01:Braight sn 1U″</text>
<text transform="translate(773.47 586.2) scale(0.95 1)" x="2.84 8.53 14.22 19.91 25.6 31.29 36.98 42.67 48.36 54.05 59.74 65.43 71.12 76.81 82.5 88.19 93.88 99.57" y="0" font-family="Liberation Serif" font-size="10.53" fill="#151515" text-anchor="middle" stroke="#151515" stroke-width="0.21">B03:Braight sn 3U″</text>
<text transform="translate(773.47 598.6) scale(0.88 1)" x="3.01 9.04 15.07 21.1 27.13 33.16 39.19 45.22 51.25 57.27 63.3 69.33 75.36 81.39 87.42 93.45 99.48 105.5 111.53" y="0" font-family="Liberation Serif" font-size="10.53" fill="#151515" text-anchor="middle" stroke="#151515" stroke-width="0.21">Bxx:Braight sn XXU″</text>
<text transform="translate(893.17 562.9) scale(0.88 1)" x="3.02 9.05 15.09 21.13 27.16 33.2 39.24 45.27 51.31 57.35 63.38 69.42" y="0" font-family="Liberation Serif" font-size="10.53" fill="#151515" text-anchor="middle" stroke="#151515" stroke-width="0.21">M00:Matte sn</text>
<text transform="translate(893.17 574.1) scale(0.89 1)" x="3.02 9.07 15.11 21.15 27.2 33.24 39.29 45.33 51.37 57.42 63.46 69.5 75.55 81.59 87.64 93.68" y="0" font-family="Liberation Serif" font-size="10.53" fill="#151515" text-anchor="middle" stroke="#151515" stroke-width="0.21">M01:Matte sn 1U″</text>
<text transform="translate(893.17 586.2) scale(0.89 1)" x="3.02 9.07 15.11 21.15 27.2 33.24 39.29 45.33 51.37 57.42 63.46 69.5 75.55 81.59 87.64 93.68" y="0" font-family="Liberation Serif" font-size="10.53" fill="#151515" text-anchor="middle" stroke="#151515" stroke-width="0.21">M03:Matte sn 3U″</text>
<text transform="translate(893.17 598.6) scale(0.84 1)" x="3.2 9.6 16 22.41 28.81 35.21 41.61 48.01 54.42 60.82 67.22 73.62 80.02 86.43 92.83 99.23 105.63" y="0" font-family="Liberation Serif" font-size="10.53" fill="#151515" text-anchor="middle" stroke="#151515" stroke-width="0.22">Mxx:Matte sn XXU″</text>
<rect x="36.9" y="566.5" width="631.4" height="173.7" stroke="#151515" stroke-width="1" fill="none" shape-rendering="crispEdges"/>
<line x1="36.9" y1="585.8" x2="668.3" y2="585.8" stroke="#151515" stroke-width="1" shape-rendering="crispEdges"/>
<line x1="36.9" y1="604.2" x2="668.3" y2="604.2" stroke="#151515" stroke-width="1" shape-rendering="crispEdges"/>
<line x1="36.9" y1="622.9" x2="668.3" y2="622.9" stroke="#151515" stroke-width="1" shape-rendering="crispEdges"/>
<line x1="352.3" y1="585.8" x2="352.3" y2="740.2" stroke="#151515" stroke-width="1" shape-rendering="crispEdges"/>
<line x1="142.4" y1="604.2" x2="142.4" y2="740.2" stroke="#151515" stroke-width="1" shape-rendering="crispEdges"/>
<line x1="246.9" y1="604.2" x2="246.9" y2="740.2" stroke="#151515" stroke-width="1" shape-rendering="crispEdges"/>
<line x1="457.7" y1="604.2" x2="457.7" y2="740.2" stroke="#151515" stroke-width="1" shape-rendering="crispEdges"/>
<line x1="562.7" y1="604.2" x2="562.7" y2="740.2" stroke="#151515" stroke-width="1" shape-rendering="crispEdges"/>
<text transform="translate(259.66 580.4) scale(1 1)" x="3.36 10.09 16.82 23.54 30.27 36.99 43.72 50.45 57.17 63.9 70.63 77.35 84.08 90.8 97.53 104.26 110.98 117.71" y="0" font-family="Liberation Serif" font-size="12.5" fill="#151515" text-anchor="middle" stroke="#151515" stroke-width="0.2">Specification Type</text>
<text transform="translate(390.8 580.4) scale(1 1)" x="3.11 9.33 15.54 21.76 27.98 34.2 40.41" y="0" font-family="Liberation Serif" font-size="12.5" fill="#151515" text-anchor="middle" stroke="#151515" stroke-width="0.2">(1:  2)</text>
<text x="190.8" y="600" font-family="Liberation Serif" font-size="13.09" fill="#151515" textLength="7.1" lengthAdjust="spacingAndGlyphs">C</text>
<text x="506.8" y="600" font-family="Liberation Serif" font-size="13.09" fill="#151515" textLength="7.4" lengthAdjust="spacingAndGlyphs">D</text>
<path d="M79.42,611.3 L87.98,611.3 M83.7,610.02 L83.7,613.87 M80.27,613.87 L87.13,613.87 M81.13,615.16 L81.13,618.58 M86.27,615.16 L86.27,618.58 M81.13,615.16 L86.27,615.16 M81.13,618.58 L86.27,618.58" stroke="#151515" stroke-width="0.69" fill="none" stroke-linecap="square"/>
<path d="M90.37,610.87 L97.23,610.87 M93.8,610.02 L93.8,618.58 M89.52,613.87 L98.08,613.87 M93.8,614.3 L89.52,618.58 M93.8,614.3 L98.08,618.58 M90.8,616.44 L96.8,616.44" stroke="#151515" stroke-width="0.69" fill="none" stroke-linecap="square"/>
<path d="M169.02,611.3 L177.58,611.3 M173.3,610.02 L173.3,613.87 M169.87,613.87 L176.73,613.87 M170.73,615.16 L170.73,618.58 M175.87,615.16 L175.87,618.58 M170.73,615.16 L175.87,615.16 M170.73,618.58 L175.87,618.58" stroke="#151515" stroke-width="0.69" fill="none" stroke-linecap="square"/>
<path d="M179.12,612.59 L182.11,612.59 M180.4,610.02 L180.4,618.58 M179.12,616.01 L182.11,615.33 M182.97,610.7 L187.68,610.7 M182.97,617.9 L187.68,617.9 M183.4,610.7 L183.4,618.58 M186.83,610.7 L186.83,618.58" stroke="#151515" stroke-width="0.69" fill="none" stroke-linecap="square"/>
<text x="194.4" y="618.6" font-family="Liberation Serif" font-size="11.5" fill="#151515">(</text>
<text transform="translate(197.8 618) scale(1 1)" x="3.14 8.16 15.69" y="0" font-family="Liberation Serif" font-size="10.69" fill="#151515" text-anchor="middle" stroke="#151515" stroke-width="0.2">4.8</text>
<text x="217" y="618.6" font-family="Liberation Serif" font-size="11.5" fill="#151515">)</text>
<path d="M273.82,611.3 L282.38,611.3 M278.1,610.02 L278.1,613.87 M274.67,613.87 L281.53,613.87 M275.53,615.16 L275.53,618.58 M280.67,615.16 L280.67,618.58 M275.53,615.16 L280.67,615.16 M275.53,618.58 L280.67,618.58" stroke="#151515" stroke-width="0.69" fill="none" stroke-linecap="square"/>
<path d="M283.92,612.59 L286.91,612.59 M285.2,610.02 L285.2,618.58 M283.92,616.01 L286.91,615.33 M287.77,610.7 L292.48,610.7 M287.77,617.9 L292.48,617.9 M288.2,610.7 L288.2,618.58 M291.63,610.7 L291.63,618.58" stroke="#151515" stroke-width="0.69" fill="none" stroke-linecap="square"/>
<text x="299.2" y="618.6" font-family="Liberation Serif" font-size="11.5" fill="#151515">(</text>
<text transform="translate(302.6 618) scale(1 1)" x="3.14 8.16 15.69" y="0" font-family="Liberation Serif" font-size="10.69" fill="#151515" text-anchor="middle" stroke="#151515" stroke-width="0.2">5.8</text>
<text x="321.8" y="618.6" font-family="Liberation Serif" font-size="11.5" fill="#151515">)</text>
<path d="M394.72,611.3 L403.28,611.3 M399,610.02 L399,613.87 M395.57,613.87 L402.43,613.87 M396.43,615.16 L396.43,618.58 M401.57,615.16 L401.57,618.58 M396.43,615.16 L401.57,615.16 M396.43,618.58 L401.57,618.58" stroke="#151515" stroke-width="0.69" fill="none" stroke-linecap="square"/>
<path d="M405.67,610.87 L412.53,610.87 M409.1,610.02 L409.1,618.58 M404.82,613.87 L413.38,613.87 M409.1,614.3 L404.82,618.58 M409.1,614.3 L413.38,618.58 M406.1,616.44 L412.1,616.44" stroke="#151515" stroke-width="0.69" fill="none" stroke-linecap="square"/>
<path d="M484.32,611.3 L492.88,611.3 M488.6,610.02 L488.6,613.87 M485.17,613.87 L492.03,613.87 M486.03,615.16 L486.03,618.58 M491.17,615.16 L491.17,618.58 M486.03,615.16 L491.17,615.16 M486.03,618.58 L491.17,618.58" stroke="#151515" stroke-width="0.69" fill="none" stroke-linecap="square"/>
<path d="M494.42,612.59 L497.41,612.59 M495.7,610.02 L495.7,618.58 M494.42,616.01 L497.41,615.33 M498.27,610.7 L502.98,610.7 M498.27,617.9 L502.98,617.9 M498.7,610.7 L498.7,618.58 M502.13,610.7 L502.13,618.58" stroke="#151515" stroke-width="0.69" fill="none" stroke-linecap="square"/>
<text x="509.7" y="618.6" font-family="Liberation Serif" font-size="11.5" fill="#151515">(</text>
<text transform="translate(513.1 618) scale(1 1)" x="3.14 8.16 15.69" y="0" font-family="Liberation Serif" font-size="10.69" fill="#151515" text-anchor="middle" stroke="#151515" stroke-width="0.2">4.8</text>
<text x="532.3" y="618.6" font-family="Liberation Serif" font-size="11.5" fill="#151515">)</text>
<path d="M589.12,611.3 L597.68,611.3 M593.4,610.02 L593.4,613.87 M589.97,613.87 L596.83,613.87 M590.83,615.16 L590.83,618.58 M595.97,615.16 L595.97,618.58 M590.83,615.16 L595.97,615.16 M590.83,618.58 L595.97,618.58" stroke="#151515" stroke-width="0.69" fill="none" stroke-linecap="square"/>
<path d="M599.22,612.59 L602.21,612.59 M600.5,610.02 L600.5,618.58 M599.22,616.01 L602.21,615.33 M603.07,610.7 L607.78,610.7 M603.07,617.9 L607.78,617.9 M603.5,610.7 L603.5,618.58 M606.93,610.7 L606.93,618.58" stroke="#151515" stroke-width="0.69" fill="none" stroke-linecap="square"/>
<text x="614.5" y="618.6" font-family="Liberation Serif" font-size="11.5" fill="#151515">(</text>
<text transform="translate(617.9 618) scale(1 1)" x="3.14 8.16 15.69" y="0" font-family="Liberation Serif" font-size="10.69" fill="#151515" text-anchor="middle" stroke="#151515" stroke-width="0.2">5.8</text>
<text x="637.1" y="618.6" font-family="Liberation Serif" font-size="11.5" fill="#151515">)</text>
<g transform="translate(-142.45 570.6) scale(0.5)">
<path d="M457.6,148.6 H431.3 Q425.3,148.6 425.3,154.6 V189.5 Q425.3,195.5 431.3,195.5 H457.6" stroke="#151515" stroke-width="2" fill="none" />
<path d="M457.6,138.9 H469.4 V146.6 H470.9 V189.6 H469.4 V205.1 H457.6 Z" stroke="#151515" stroke-width="2.6" fill="none" />
<line x1="459.4" y1="139.5" x2="459.4" y2="204.5" stroke="#151515" stroke-width="1" shape-rendering="crispEdges"/>
<line x1="471.5" y1="138.9" x2="480.8" y2="138.9" stroke="#151515" stroke-width="2" shape-rendering="crispEdges"/>
<line x1="480.8" y1="146.6" x2="559.6" y2="146.6" stroke="#151515" stroke-width="2" shape-rendering="crispEdges"/>
<line x1="480.8" y1="197.4" x2="559.6" y2="197.4" stroke="#151515" stroke-width="2" shape-rendering="crispEdges"/>
<line x1="416.7" y1="172.5" x2="550" y2="172.5" stroke="#151515" stroke-width="2" shape-rendering="crispEdges" stroke-dasharray="18,12"/>
<path d="M457.6,251.6 H432.5 Q426.5,251.6 426.5,257.6 V287.5 Q426.5,293.5 432.5,293.5 H457.6" stroke="#151515" stroke-width="2" fill="none" />
<path d="M457.6,239.4 H469.4 V254.7 H470.9 V290 H469.4 V305.3 H457.6 Z" stroke="#151515" stroke-width="2.6" fill="none" />
<line x1="459.4" y1="240" x2="459.4" y2="304.8" stroke="#151515" stroke-width="1" shape-rendering="crispEdges"/>
<path d="M480.8,297.4 V249.2 H518.8 V293.9" stroke="#151515" stroke-width="2" fill="none" />
<line x1="416.7" y1="272.7" x2="552" y2="272.7" stroke="#151515" stroke-width="2" shape-rendering="crispEdges" stroke-dasharray="18,12"/>
<line x1="471.5" y1="138.9" x2="471.5" y2="305.3" stroke="#151515" stroke-width="2" shape-rendering="crispEdges"/>
<line x1="471.8" y1="205.1" x2="471.8" y2="239.4" stroke="#151515" stroke-width="4" shape-rendering="crispEdges"/>
<line x1="480.8" y1="138.9" x2="480.8" y2="297.3" stroke="#151515" stroke-width="2" shape-rendering="crispEdges"/>
<line x1="559.6" y1="146.6" x2="559.6" y2="305.3" stroke="#151515" stroke-width="2" shape-rendering="crispEdges"/>
<line x1="480.8" y1="297.3" x2="559.6" y2="297.3" stroke="#151515" stroke-width="2" shape-rendering="crispEdges"/>
<line x1="524.9" y1="197.4" x2="524.9" y2="291.4" stroke="#151515" stroke-width="2" shape-rendering="crispEdges"/>
<path d="M498.4,297.3 L503,293.9 H539 L543.3,297.3" stroke="#151515" stroke-width="2" fill="none" />
<rect x="512.7" y="291.4" width="16.3" height="2.5" stroke="#151515" stroke-width="2" fill="none" shape-rendering="crispEdges"/>
<line x1="457.6" y1="305.3" x2="559.6" y2="305.3" stroke="#151515" stroke-width="3" shape-rendering="crispEdges"/>
<path d="M483,305.3 V321 Q484.4,322.6 485.8,321 V305.3" stroke="#151515" stroke-width="2" fill="none" />
<path d="M493.3,305.3 V321 Q494.8,322.6 496.3,321 V305.3" stroke="#151515" stroke-width="2" fill="none" />
<path d="M498.4,305.3 V325 Q499.9,326.6 501.4,325 V305.3" stroke="#151515" stroke-width="2" fill="none" />
<path d="M503.5,305.3 V321 Q505,322.6 506.5,321 V305.3" stroke="#151515" stroke-width="2" fill="none" />
<path d="M534,305.3 V321 Q535.5,322.6 537,321 V305.3" stroke="#151515" stroke-width="2" fill="none" />
<path d="M540.2,305.3 V325 Q541.75,326.6 543.3,325 V305.3" stroke="#151515" stroke-width="2" fill="none" />
<path d="M548.4,305.3 V321 Q549.9,322.6 551.4,321 V305.3" stroke="#151515" stroke-width="2" fill="none" />
<path d="M498.4,297.3 L503,293.9 H539 L543.3,297.3" stroke="#151515" stroke-width="2" fill="none" />
<line x1="508.4" y1="293.9" x2="508.4" y2="297.3" stroke="#151515" stroke-width="2" shape-rendering="crispEdges"/>
<line x1="532.8" y1="293.9" x2="532.8" y2="297.3" stroke="#151515" stroke-width="2" shape-rendering="crispEdges"/>
</g>
<line x1="53.6" y1="640.3" x2="86.5" y2="640.3" stroke="#151515" stroke-width="1" shape-rendering="crispEdges"/>
<line x1="53.6" y1="723.2" x2="86.5" y2="723.2" stroke="#151515" stroke-width="1" shape-rendering="crispEdges"/>
<line x1="54.6" y1="640.3" x2="54.6" y2="723.2" stroke="#151515" stroke-width="1" shape-rendering="crispEdges"/>
<polygon points="54.5,640.3 55.5,643.8 53.5,643.8" fill="#151515"/>
<polygon points="54.5,723.2 53.5,719.7 55.5,719.7" fill="#151515"/>
<line x1="64.5" y1="656.9" x2="64.5" y2="707" stroke="#151515" stroke-width="1" shape-rendering="crispEdges"/>
<polygon points="64.5,656.9 65.5,660.4 63.5,660.4" fill="#151515"/>
<polygon points="64.5,707 63.5,703.5 65.5,703.5" fill="#151515"/>
<text transform="translate(53 695.85) rotate(-90) scale(0.88 1)" x="3.18 9.55 14.65 22.29 28.65" y="0" font-family="Liberation Serif" font-size="11.6" fill="#151515" text-anchor="middle" stroke="#151515" stroke-width="0.21">31.58</text>
<text transform="translate(63 695.84) rotate(-90) scale(0.95 1)" x="2.89 8.67 13.3 20.23 26.01" y="0" font-family="Liberation Serif" font-size="10.53" fill="#151515" text-anchor="middle" stroke="#151515" stroke-width="0.21">19.05</text>
<g transform="translate(-37.45 570.6) scale(0.5)">
<path d="M457.6,148.6 H431.3 Q425.3,148.6 425.3,154.6 V189.5 Q425.3,195.5 431.3,195.5 H457.6" stroke="#151515" stroke-width="2" fill="none" />
<path d="M457.6,159.6 H433 Q435,166 433,172.3 Q435,178.6 433,184.6 H457.6" stroke="#151515" stroke-width="2" fill="none" />
<line x1="433" y1="159.6" x2="433" y2="184.6" stroke="#151515" stroke-width="2" shape-rendering="crispEdges"/>
<path d="M457.6,138.9 H469.4 V146.6 H470.9 V189.6 H469.4 V205.1 H457.6 Z" stroke="#151515" stroke-width="2.6" fill="none" />
<line x1="459.4" y1="139.5" x2="459.4" y2="204.5" stroke="#151515" stroke-width="1" shape-rendering="crispEdges"/>
<line x1="471.5" y1="138.9" x2="480.8" y2="138.9" stroke="#151515" stroke-width="2" shape-rendering="crispEdges"/>
<line x1="480.8" y1="146.6" x2="559.6" y2="146.6" stroke="#151515" stroke-width="2" shape-rendering="crispEdges"/>
<line x1="480.8" y1="197.4" x2="559.6" y2="197.4" stroke="#151515" stroke-width="2" shape-rendering="crispEdges"/>
<rect x="480.8" y="163.4" width="13" height="17.4" rx="1.5" fill="#111"/>
<line x1="416.7" y1="172.5" x2="550" y2="172.5" stroke="#151515" stroke-width="2" shape-rendering="crispEdges" stroke-dasharray="18,12"/>
<path d="M457.6,251.6 H432.5 Q426.5,251.6 426.5,257.6 V287.5 Q426.5,293.5 432.5,293.5 H457.6" stroke="#151515" stroke-width="2" fill="none" />
<path d="M457.6,259.6 H433 Q435,266 433,272.3 Q435,278.6 433,284.6 H457.6" stroke="#151515" stroke-width="2" fill="none" />
<line x1="433" y1="259.6" x2="433" y2="284.6" stroke="#151515" stroke-width="2" shape-rendering="crispEdges"/>
<path d="M457.6,239.4 H469.4 V254.7 H470.9 V290 H469.4 V305.3 H457.6 Z" stroke="#151515" stroke-width="2.6" fill="none" />
<line x1="459.4" y1="240" x2="459.4" y2="304.8" stroke="#151515" stroke-width="1" shape-rendering="crispEdges"/>
<path d="M480.8,297.4 V249.2 H518.8 V293.9" stroke="#151515" stroke-width="2" fill="none" />
<rect x="480.8" y="263.9" width="13" height="16.9" rx="1.5" fill="#111"/>
<line x1="416.7" y1="272.7" x2="552" y2="272.7" stroke="#151515" stroke-width="2" shape-rendering="crispEdges" stroke-dasharray="18,12"/>
<line x1="471.5" y1="138.9" x2="471.5" y2="305.3" stroke="#151515" stroke-width="2" shape-rendering="crispEdges"/>
<line x1="471.8" y1="205.1" x2="471.8" y2="239.4" stroke="#151515" stroke-width="4" shape-rendering="crispEdges"/>
<line x1="480.8" y1="138.9" x2="480.8" y2="297.3" stroke="#151515" stroke-width="2" shape-rendering="crispEdges"/>
<line x1="559.6" y1="146.6" x2="559.6" y2="305.3" stroke="#151515" stroke-width="2" shape-rendering="crispEdges"/>
<line x1="480.8" y1="297.3" x2="559.6" y2="297.3" stroke="#151515" stroke-width="2" shape-rendering="crispEdges"/>
<line x1="524.9" y1="197.4" x2="524.9" y2="291.4" stroke="#151515" stroke-width="2" shape-rendering="crispEdges"/>
<path d="M498.4,297.3 L503,293.9 H539 L543.3,297.3" stroke="#151515" stroke-width="2" fill="none" />
<rect x="512.7" y="291.4" width="16.3" height="2.5" stroke="#151515" stroke-width="2" fill="none" shape-rendering="crispEdges"/>
<line x1="457.6" y1="305.3" x2="559.6" y2="305.3" stroke="#151515" stroke-width="3" shape-rendering="crispEdges"/>
<path d="M483,305.3 V321 Q484.4,322.6 485.8,321 V305.3" stroke="#151515" stroke-width="2" fill="none" />
<path d="M493.3,305.3 V321 Q494.8,322.6 496.3,321 V305.3" stroke="#151515" stroke-width="2" fill="none" />
<path d="M498.4,305.3 V325 Q499.9,326.6 501.4,325 V305.3" stroke="#151515" stroke-width="2" fill="none" />
<path d="M503.5,305.3 V321 Q505,322.6 506.5,321 V305.3" stroke="#151515" stroke-width="2" fill="none" />
<path d="M534,305.3 V321 Q535.5,322.6 537,321 V305.3" stroke="#151515" stroke-width="2" fill="none" />
<path d="M540.2,305.3 V325 Q541.75,326.6 543.3,325 V305.3" stroke="#151515" stroke-width="2" fill="none" />
<path d="M548.4,305.3 V321 Q549.9,322.6 551.4,321 V305.3" stroke="#151515" stroke-width="2" fill="none" />
<path d="M498.4,297.3 L503,293.9 H539 L543.3,297.3" stroke="#151515" stroke-width="2" fill="none" />
<line x1="508.4" y1="293.9" x2="508.4" y2="297.3" stroke="#151515" stroke-width="2" shape-rendering="crispEdges"/>
<line x1="532.8" y1="293.9" x2="532.8" y2="297.3" stroke="#151515" stroke-width="2" shape-rendering="crispEdges"/>
</g>
<line x1="158.6" y1="640.3" x2="191.5" y2="640.3" stroke="#151515" stroke-width="1" shape-rendering="crispEdges"/>
<line x1="158.6" y1="723.2" x2="191.5" y2="723.2" stroke="#151515" stroke-width="1" shape-rendering="crispEdges"/>
<line x1="159.6" y1="640.3" x2="159.6" y2="723.2" stroke="#151515" stroke-width="1" shape-rendering="crispEdges"/>
<polygon points="159.5,640.3 160.5,643.8 158.5,643.8" fill="#151515"/>
<polygon points="159.5,723.2 158.5,719.7 160.5,719.7" fill="#151515"/>
<line x1="169.5" y1="656.9" x2="169.5" y2="707" stroke="#151515" stroke-width="1" shape-rendering="crispEdges"/>
<polygon points="169.5,656.9 170.5,660.4 168.5,660.4" fill="#151515"/>
<polygon points="169.5,707 168.5,703.5 170.5,703.5" fill="#151515"/>
<text transform="translate(158 695.85) rotate(-90) scale(0.88 1)" x="3.18 9.55 14.65 22.29 28.65" y="0" font-family="Liberation Serif" font-size="11.6" fill="#151515" text-anchor="middle" stroke="#151515" stroke-width="0.21">31.58</text>
<text transform="translate(168 695.84) rotate(-90) scale(0.95 1)" x="2.89 8.67 13.3 20.23 26.01" y="0" font-family="Liberation Serif" font-size="10.53" fill="#151515" text-anchor="middle" stroke="#151515" stroke-width="0.21">19.05</text>
<line x1="178.2" y1="633" x2="178.2" y2="663.3" stroke="#151515" stroke-width="1" shape-rendering="crispEdges"/>
<line x1="191.5" y1="633" x2="191.5" y2="640.3" stroke="#151515" stroke-width="1" shape-rendering="crispEdges"/>
<line x1="178.2" y1="634.5" x2="191.5" y2="634.5" stroke="#151515" stroke-width="1" shape-rendering="crispEdges"/>
<polygon points="178.2,634.5 181.7,633.5 181.7,635.5" fill="#151515"/>
<polygon points="191.5,634.5 188,635.5 188,633.5" fill="#151515"/>
<line x1="191.5" y1="634.5" x2="220" y2="634.5" stroke="#151515" stroke-width="1" shape-rendering="crispEdges"/>
<text transform="translate(195.54 633.6) scale(0.9 1)" x="3.2 8.32 16.01 22.41" y="0" font-family="Liberation Serif" font-size="12" fill="#151515" text-anchor="middle" stroke="#151515" stroke-width="0.21">4.80</text>
<g transform="translate(67.55 570.6) scale(0.5)">
<path d="M457.6,148.6 H431.3 Q425.3,148.6 425.3,154.6 V189.5 Q425.3,195.5 431.3,195.5 H457.6" stroke="#151515" stroke-width="2" fill="none" />
<path d="M457.6,159.6 H433 Q435,166 433,172.3 Q435,178.6 433,184.6 H457.6" stroke="#151515" stroke-width="2" fill="none" />
<line x1="433" y1="159.6" x2="433" y2="184.6" stroke="#151515" stroke-width="2" shape-rendering="crispEdges"/>
<path d="M457.6,138.9 H469.4 V146.6 H470.9 V189.6 H469.4 V205.1 H457.6 Z" stroke="#151515" stroke-width="2.6" fill="none" />
<line x1="459.4" y1="139.5" x2="459.4" y2="204.5" stroke="#151515" stroke-width="1" shape-rendering="crispEdges"/>
<line x1="471.5" y1="138.9" x2="480.8" y2="138.9" stroke="#151515" stroke-width="2" shape-rendering="crispEdges"/>
<line x1="480.8" y1="146.6" x2="559.6" y2="146.6" stroke="#151515" stroke-width="2" shape-rendering="crispEdges"/>
<line x1="480.8" y1="197.4" x2="559.6" y2="197.4" stroke="#151515" stroke-width="2" shape-rendering="crispEdges"/>
<rect x="480.8" y="163.4" width="13" height="17.4" rx="1.5" fill="#111"/>
<line x1="416.7" y1="172.5" x2="550" y2="172.5" stroke="#151515" stroke-width="2" shape-rendering="crispEdges" stroke-dasharray="18,12"/>
<path d="M457.6,251.6 H432.5 Q426.5,251.6 426.5,257.6 V287.5 Q426.5,293.5 432.5,293.5 H457.6" stroke="#151515" stroke-width="2" fill="none" />
<path d="M457.6,259.6 H433 Q435,266 433,272.3 Q435,278.6 433,284.6 H457.6" stroke="#151515" stroke-width="2" fill="none" />
<line x1="433" y1="259.6" x2="433" y2="284.6" stroke="#151515" stroke-width="2" shape-rendering="crispEdges"/>
<path d="M457.6,239.4 H469.4 V254.7 H470.9 V290 H469.4 V305.3 H457.6 Z" stroke="#151515" stroke-width="2.6" fill="none" />
<line x1="459.4" y1="240" x2="459.4" y2="304.8" stroke="#151515" stroke-width="1" shape-rendering="crispEdges"/>
<path d="M480.8,297.4 V249.2 H518.8 V293.9" stroke="#151515" stroke-width="2" fill="none" />
<rect x="480.8" y="263.9" width="13" height="16.9" rx="1.5" fill="#111"/>
<line x1="416.7" y1="272.7" x2="552" y2="272.7" stroke="#151515" stroke-width="2" shape-rendering="crispEdges" stroke-dasharray="18,12"/>
<line x1="471.5" y1="138.9" x2="471.5" y2="305.3" stroke="#151515" stroke-width="2" shape-rendering="crispEdges"/>
<line x1="471.8" y1="205.1" x2="471.8" y2="239.4" stroke="#151515" stroke-width="4" shape-rendering="crispEdges"/>
<line x1="480.8" y1="138.9" x2="480.8" y2="297.3" stroke="#151515" stroke-width="2" shape-rendering="crispEdges"/>
<line x1="559.6" y1="146.6" x2="559.6" y2="305.3" stroke="#151515" stroke-width="2" shape-rendering="crispEdges"/>
<line x1="480.8" y1="297.3" x2="559.6" y2="297.3" stroke="#151515" stroke-width="2" shape-rendering="crispEdges"/>
<line x1="524.9" y1="197.4" x2="524.9" y2="291.4" stroke="#151515" stroke-width="2" shape-rendering="crispEdges"/>
<path d="M498.4,297.3 L503,293.9 H539 L543.3,297.3" stroke="#151515" stroke-width="2" fill="none" />
<rect x="512.7" y="291.4" width="16.3" height="2.5" stroke="#151515" stroke-width="2" fill="none" shape-rendering="crispEdges"/>
<line x1="457.6" y1="305.3" x2="559.6" y2="305.3" stroke="#151515" stroke-width="3" shape-rendering="crispEdges"/>
<path d="M483,305.3 V321 Q484.4,322.6 485.8,321 V305.3" stroke="#151515" stroke-width="2" fill="none" />
<path d="M493.3,305.3 V321 Q494.8,322.6 496.3,321 V305.3" stroke="#151515" stroke-width="2" fill="none" />
<path d="M498.4,305.3 V325 Q499.9,326.6 501.4,325 V305.3" stroke="#151515" stroke-width="2" fill="none" />
<path d="M503.5,305.3 V321 Q505,322.6 506.5,321 V305.3" stroke="#151515" stroke-width="2" fill="none" />
<path d="M534,305.3 V321 Q535.5,322.6 537,321 V305.3" stroke="#151515" stroke-width="2" fill="none" />
<path d="M540.2,305.3 V325 Q541.75,326.6 543.3,325 V305.3" stroke="#151515" stroke-width="2" fill="none" />
<path d="M548.4,305.3 V321 Q549.9,322.6 551.4,321 V305.3" stroke="#151515" stroke-width="2" fill="none" />
<path d="M498.4,297.3 L503,293.9 H539 L543.3,297.3" stroke="#151515" stroke-width="2" fill="none" />
<line x1="508.4" y1="293.9" x2="508.4" y2="297.3" stroke="#151515" stroke-width="2" shape-rendering="crispEdges"/>
<line x1="532.8" y1="293.9" x2="532.8" y2="297.3" stroke="#151515" stroke-width="2" shape-rendering="crispEdges"/>
</g>
<line x1="263.6" y1="640.3" x2="296.5" y2="640.3" stroke="#151515" stroke-width="1" shape-rendering="crispEdges"/>
<line x1="263.6" y1="723.2" x2="296.5" y2="723.2" stroke="#151515" stroke-width="1" shape-rendering="crispEdges"/>
<line x1="264.6" y1="640.3" x2="264.6" y2="723.2" stroke="#151515" stroke-width="1" shape-rendering="crispEdges"/>
<polygon points="264.5,640.3 265.5,643.8 263.5,643.8" fill="#151515"/>
<polygon points="264.5,723.2 263.5,719.7 265.5,719.7" fill="#151515"/>
<line x1="274.5" y1="656.9" x2="274.5" y2="707" stroke="#151515" stroke-width="1" shape-rendering="crispEdges"/>
<polygon points="274.5,656.9 275.5,660.4 273.5,660.4" fill="#151515"/>
<polygon points="274.5,707 273.5,703.5 275.5,703.5" fill="#151515"/>
<text transform="translate(263 695.85) rotate(-90) scale(0.88 1)" x="3.18 9.55 14.65 22.29 28.65" y="0" font-family="Liberation Serif" font-size="11.6" fill="#151515" text-anchor="middle" stroke="#151515" stroke-width="0.21">31.58</text>
<text transform="translate(273 695.84) rotate(-90) scale(0.95 1)" x="2.89 8.67 13.3 20.23 26.01" y="0" font-family="Liberation Serif" font-size="10.53" fill="#151515" text-anchor="middle" stroke="#151515" stroke-width="0.21">19.05</text>
<line x1="281.1" y1="633" x2="281.1" y2="663.3" stroke="#151515" stroke-width="1" shape-rendering="crispEdges"/>
<line x1="296.5" y1="633" x2="296.5" y2="640.3" stroke="#151515" stroke-width="1" shape-rendering="crispEdges"/>
<line x1="281.1" y1="634.5" x2="296.5" y2="634.5" stroke="#151515" stroke-width="1" shape-rendering="crispEdges"/>
<polygon points="281.1,634.5 284.6,633.5 284.6,635.5" fill="#151515"/>
<polygon points="296.5,634.5 293,635.5 293,633.5" fill="#151515"/>
<line x1="296.5" y1="634.5" x2="325" y2="634.5" stroke="#151515" stroke-width="1" shape-rendering="crispEdges"/>
<text transform="translate(300.54 633.6) scale(0.9 1)" x="3.2 8.32 16.01 22.41" y="0" font-family="Liberation Serif" font-size="12" fill="#151515" text-anchor="middle" stroke="#151515" stroke-width="0.21">5.80</text>
<g transform="translate(172.55 562.55) scale(0.5)">
<path d="M457.6,164.7 H431.3 Q425.3,164.7 425.3,170.7 V205.6 Q425.3,211.6 431.3,211.6 H457.6" stroke="#151515" stroke-width="2" fill="none" />
<path d="M457.6,155 H469.4 V162.7 H470.9 V205.7 H469.4 V221.2 H457.6 Z" stroke="#151515" stroke-width="2.6" fill="none" />
<line x1="459.4" y1="155.6" x2="459.4" y2="220.6" stroke="#151515" stroke-width="1" shape-rendering="crispEdges"/>
<line x1="471.5" y1="155" x2="480.8" y2="155" stroke="#151515" stroke-width="2" shape-rendering="crispEdges"/>
<line x1="480.8" y1="162.7" x2="559.6" y2="162.7" stroke="#151515" stroke-width="2" shape-rendering="crispEdges"/>
<line x1="480.8" y1="213.5" x2="559.6" y2="213.5" stroke="#151515" stroke-width="2" shape-rendering="crispEdges"/>
<line x1="416.7" y1="188.6" x2="550" y2="188.6" stroke="#151515" stroke-width="2" shape-rendering="crispEdges" stroke-dasharray="18,12"/>
<path d="M457.6,251.6 H432.5 Q426.5,251.6 426.5,257.6 V287.5 Q426.5,293.5 432.5,293.5 H457.6" stroke="#151515" stroke-width="2" fill="none" />
<path d="M457.6,239.4 H469.4 V254.7 H470.9 V290 H469.4 V305.3 H457.6 Z" stroke="#151515" stroke-width="2.6" fill="none" />
<line x1="459.4" y1="240" x2="459.4" y2="304.8" stroke="#151515" stroke-width="1" shape-rendering="crispEdges"/>
<path d="M480.8,297.4 V249.2 H518.8 V293.9" stroke="#151515" stroke-width="2" fill="none" />
<line x1="416.7" y1="272.7" x2="552" y2="272.7" stroke="#151515" stroke-width="2" shape-rendering="crispEdges" stroke-dasharray="18,12"/>
<line x1="471.5" y1="155" x2="471.5" y2="305.3" stroke="#151515" stroke-width="2" shape-rendering="crispEdges"/>
<line x1="471.8" y1="221.2" x2="471.8" y2="239.4" stroke="#151515" stroke-width="4" shape-rendering="crispEdges"/>
<line x1="480.8" y1="155" x2="480.8" y2="297.3" stroke="#151515" stroke-width="2" shape-rendering="crispEdges"/>
<line x1="559.6" y1="162.7" x2="559.6" y2="305.3" stroke="#151515" stroke-width="2" shape-rendering="crispEdges"/>
<line x1="480.8" y1="297.3" x2="559.6" y2="297.3" stroke="#151515" stroke-width="2" shape-rendering="crispEdges"/>
<line x1="524.9" y1="213.5" x2="524.9" y2="291.4" stroke="#151515" stroke-width="2" shape-rendering="crispEdges"/>
<path d="M498.4,297.3 L503,293.9 H539 L543.3,297.3" stroke="#151515" stroke-width="2" fill="none" />
<rect x="512.7" y="291.4" width="16.3" height="2.5" stroke="#151515" stroke-width="2" fill="none" shape-rendering="crispEdges"/>
<line x1="457.6" y1="305.3" x2="559.6" y2="305.3" stroke="#151515" stroke-width="3" shape-rendering="crispEdges"/>
<path d="M483,305.3 V321 Q484.4,322.6 485.8,321 V305.3" stroke="#151515" stroke-width="2" fill="none" />
<path d="M493.3,305.3 V321 Q494.8,322.6 496.3,321 V305.3" stroke="#151515" stroke-width="2" fill="none" />
<path d="M498.4,305.3 V325 Q499.9,326.6 501.4,325 V305.3" stroke="#151515" stroke-width="2" fill="none" />
<path d="M503.5,305.3 V321 Q505,322.6 506.5,321 V305.3" stroke="#151515" stroke-width="2" fill="none" />
<path d="M534,305.3 V321 Q535.5,322.6 537,321 V305.3" stroke="#151515" stroke-width="2" fill="none" />
<path d="M540.2,305.3 V325 Q541.75,326.6 543.3,325 V305.3" stroke="#151515" stroke-width="2" fill="none" />
<path d="M548.4,305.3 V321 Q549.9,322.6 551.4,321 V305.3" stroke="#151515" stroke-width="2" fill="none" />
<path d="M498.4,297.3 L503,293.9 H539 L543.3,297.3" stroke="#151515" stroke-width="2" fill="none" />
<line x1="508.4" y1="293.9" x2="508.4" y2="297.3" stroke="#151515" stroke-width="2" shape-rendering="crispEdges"/>
<line x1="532.8" y1="293.9" x2="532.8" y2="297.3" stroke="#151515" stroke-width="2" shape-rendering="crispEdges"/>
</g>
<line x1="369.3" y1="640.3" x2="401.5" y2="640.3" stroke="#151515" stroke-width="1" shape-rendering="crispEdges"/>
<line x1="369.3" y1="715.2" x2="401.5" y2="715.2" stroke="#151515" stroke-width="1" shape-rendering="crispEdges"/>
<line x1="370.3" y1="640.3" x2="370.3" y2="715.2" stroke="#151515" stroke-width="1" shape-rendering="crispEdges"/>
<polygon points="370.5,640.3 371.5,643.8 369.5,643.8" fill="#151515"/>
<polygon points="370.5,715.2 369.5,711.7 371.5,711.7" fill="#151515"/>
<line x1="380.3" y1="656.9" x2="380.3" y2="698.9" stroke="#151515" stroke-width="1" shape-rendering="crispEdges"/>
<polygon points="380.5,656.9 381.5,660.4 379.5,660.4" fill="#151515"/>
<polygon points="380.5,698.9 379.5,695.4 381.5,695.4" fill="#151515"/>
<text transform="translate(368.8 691.92) rotate(-90) scale(0.93 1)" x="2.85 8.55 13.1 19.94 25.64" y="0" font-family="Liberation Serif" font-size="10.38" fill="#151515" text-anchor="middle" stroke="#151515" stroke-width="0.21">28.41</text>
<text transform="translate(379.2 691.22) rotate(-90) scale(0.87 1)" x="3.06 9.17 14.07 21.41 27.52" y="0" font-family="Liberation Serif" font-size="11.15" fill="#151515" text-anchor="middle" stroke="#151515" stroke-width="0.21">15.88</text>
<g transform="translate(277.55 562.55) scale(0.5)">
<path d="M457.6,164.7 H431.3 Q425.3,164.7 425.3,170.7 V205.6 Q425.3,211.6 431.3,211.6 H457.6" stroke="#151515" stroke-width="2" fill="none" />
<path d="M457.6,175.7 H433 Q435,182.1 433,188.4 Q435,194.7 433,200.7 H457.6" stroke="#151515" stroke-width="2" fill="none" />
<line x1="433" y1="175.7" x2="433" y2="200.7" stroke="#151515" stroke-width="2" shape-rendering="crispEdges"/>
<path d="M457.6,155 H469.4 V162.7 H470.9 V205.7 H469.4 V221.2 H457.6 Z" stroke="#151515" stroke-width="2.6" fill="none" />
<line x1="459.4" y1="155.6" x2="459.4" y2="220.6" stroke="#151515" stroke-width="1" shape-rendering="crispEdges"/>
<line x1="471.5" y1="155" x2="480.8" y2="155" stroke="#151515" stroke-width="2" shape-rendering="crispEdges"/>
<line x1="480.8" y1="162.7" x2="559.6" y2="162.7" stroke="#151515" stroke-width="2" shape-rendering="crispEdges"/>
<line x1="480.8" y1="213.5" x2="559.6" y2="213.5" stroke="#151515" stroke-width="2" shape-rendering="crispEdges"/>
<rect x="480.8" y="179.5" width="13" height="17.4" rx="1.5" fill="#111"/>
<line x1="416.7" y1="188.6" x2="550" y2="188.6" stroke="#151515" stroke-width="2" shape-rendering="crispEdges" stroke-dasharray="18,12"/>
<path d="M457.6,251.6 H432.5 Q426.5,251.6 426.5,257.6 V287.5 Q426.5,293.5 432.5,293.5 H457.6" stroke="#151515" stroke-width="2" fill="none" />
<path d="M457.6,259.6 H433 Q435,266 433,272.3 Q435,278.6 433,284.6 H457.6" stroke="#151515" stroke-width="2" fill="none" />
<line x1="433" y1="259.6" x2="433" y2="284.6" stroke="#151515" stroke-width="2" shape-rendering="crispEdges"/>
<path d="M457.6,239.4 H469.4 V254.7 H470.9 V290 H469.4 V305.3 H457.6 Z" stroke="#151515" stroke-width="2.6" fill="none" />
<line x1="459.4" y1="240" x2="459.4" y2="304.8" stroke="#151515" stroke-width="1" shape-rendering="crispEdges"/>
<path d="M480.8,297.4 V249.2 H518.8 V293.9" stroke="#151515" stroke-width="2" fill="none" />
<rect x="480.8" y="263.9" width="13" height="16.9" rx="1.5" fill="#111"/>
<line x1="416.7" y1="272.7" x2="552" y2="272.7" stroke="#151515" stroke-width="2" shape-rendering="crispEdges" stroke-dasharray="18,12"/>
<line x1="471.5" y1="155" x2="471.5" y2="305.3" stroke="#151515" stroke-width="2" shape-rendering="crispEdges"/>
<line x1="471.8" y1="221.2" x2="471.8" y2="239.4" stroke="#151515" stroke-width="4" shape-rendering="crispEdges"/>
<line x1="480.8" y1="155" x2="480.8" y2="297.3" stroke="#151515" stroke-width="2" shape-rendering="crispEdges"/>
<line x1="559.6" y1="162.7" x2="559.6" y2="305.3" stroke="#151515" stroke-width="2" shape-rendering="crispEdges"/>
<line x1="480.8" y1="297.3" x2="559.6" y2="297.3" stroke="#151515" stroke-width="2" shape-rendering="crispEdges"/>
<line x1="524.9" y1="213.5" x2="524.9" y2="291.4" stroke="#151515" stroke-width="2" shape-rendering="crispEdges"/>
<path d="M498.4,297.3 L503,293.9 H539 L543.3,297.3" stroke="#151515" stroke-width="2" fill="none" />
<rect x="512.7" y="291.4" width="16.3" height="2.5" stroke="#151515" stroke-width="2" fill="none" shape-rendering="crispEdges"/>
<line x1="457.6" y1="305.3" x2="559.6" y2="305.3" stroke="#151515" stroke-width="3" shape-rendering="crispEdges"/>
<path d="M483,305.3 V321 Q484.4,322.6 485.8,321 V305.3" stroke="#151515" stroke-width="2" fill="none" />
<path d="M493.3,305.3 V321 Q494.8,322.6 496.3,321 V305.3" stroke="#151515" stroke-width="2" fill="none" />
<path d="M498.4,305.3 V325 Q499.9,326.6 501.4,325 V305.3" stroke="#151515" stroke-width="2" fill="none" />
<path d="M503.5,305.3 V321 Q505,322.6 506.5,321 V305.3" stroke="#151515" stroke-width="2" fill="none" />
<path d="M534,305.3 V321 Q535.5,322.6 537,321 V305.3" stroke="#151515" stroke-width="2" fill="none" />
<path d="M540.2,305.3 V325 Q541.75,326.6 543.3,325 V305.3" stroke="#151515" stroke-width="2" fill="none" />
<path d="M548.4,305.3 V321 Q549.9,322.6 551.4,321 V305.3" stroke="#151515" stroke-width="2" fill="none" />
<path d="M498.4,297.3 L503,293.9 H539 L543.3,297.3" stroke="#151515" stroke-width="2" fill="none" />
<line x1="508.4" y1="293.9" x2="508.4" y2="297.3" stroke="#151515" stroke-width="2" shape-rendering="crispEdges"/>
<line x1="532.8" y1="293.9" x2="532.8" y2="297.3" stroke="#151515" stroke-width="2" shape-rendering="crispEdges"/>
</g>
<line x1="474.3" y1="640.3" x2="506.5" y2="640.3" stroke="#151515" stroke-width="1" shape-rendering="crispEdges"/>
<line x1="474.3" y1="715.2" x2="506.5" y2="715.2" stroke="#151515" stroke-width="1" shape-rendering="crispEdges"/>
<line x1="475.3" y1="640.3" x2="475.3" y2="715.2" stroke="#151515" stroke-width="1" shape-rendering="crispEdges"/>
<polygon points="475.5,640.3 476.5,643.8 474.5,643.8" fill="#151515"/>
<polygon points="475.5,715.2 474.5,711.7 476.5,711.7" fill="#151515"/>
<line x1="485.3" y1="656.9" x2="485.3" y2="698.9" stroke="#151515" stroke-width="1" shape-rendering="crispEdges"/>
<polygon points="485.5,656.9 486.5,660.4 484.5,660.4" fill="#151515"/>
<polygon points="485.5,698.9 484.5,695.4 486.5,695.4" fill="#151515"/>
<text transform="translate(473.8 691.92) rotate(-90) scale(0.93 1)" x="2.85 8.55 13.1 19.94 25.64" y="0" font-family="Liberation Serif" font-size="10.38" fill="#151515" text-anchor="middle" stroke="#151515" stroke-width="0.21">28.41</text>
<text transform="translate(484.2 691.22) rotate(-90) scale(0.87 1)" x="3.06 9.17 14.07 21.41 27.52" y="0" font-family="Liberation Serif" font-size="11.15" fill="#151515" text-anchor="middle" stroke="#151515" stroke-width="0.21">15.88</text>
<line x1="493.2" y1="633" x2="493.2" y2="663.3" stroke="#151515" stroke-width="1" shape-rendering="crispEdges"/>
<line x1="506.5" y1="633" x2="506.5" y2="640.3" stroke="#151515" stroke-width="1" shape-rendering="crispEdges"/>
<line x1="493.2" y1="634.5" x2="506.5" y2="634.5" stroke="#151515" stroke-width="1" shape-rendering="crispEdges"/>
<polygon points="493.2,634.5 496.7,633.5 496.7,635.5" fill="#151515"/>
<polygon points="506.5,634.5 503,635.5 503,633.5" fill="#151515"/>
<line x1="506.5" y1="634.5" x2="535" y2="634.5" stroke="#151515" stroke-width="1" shape-rendering="crispEdges"/>
<text transform="translate(510.54 633.6) scale(0.9 1)" x="3.2 8.32 16.01 22.41" y="0" font-family="Liberation Serif" font-size="12" fill="#151515" text-anchor="middle" stroke="#151515" stroke-width="0.21">4.80</text>
<g transform="translate(382.55 562.55) scale(0.5)">
<path d="M457.6,164.7 H431.3 Q425.3,164.7 425.3,170.7 V205.6 Q425.3,211.6 431.3,211.6 H457.6" stroke="#151515" stroke-width="2" fill="none" />
<path d="M457.6,175.7 H433 Q435,182.1 433,188.4 Q435,194.7 433,200.7 H457.6" stroke="#151515" stroke-width="2" fill="none" />
<line x1="433" y1="175.7" x2="433" y2="200.7" stroke="#151515" stroke-width="2" shape-rendering="crispEdges"/>
<path d="M457.6,155 H469.4 V162.7 H470.9 V205.7 H469.4 V221.2 H457.6 Z" stroke="#151515" stroke-width="2.6" fill="none" />
<line x1="459.4" y1="155.6" x2="459.4" y2="220.6" stroke="#151515" stroke-width="1" shape-rendering="crispEdges"/>
<line x1="471.5" y1="155" x2="480.8" y2="155" stroke="#151515" stroke-width="2" shape-rendering="crispEdges"/>
<line x1="480.8" y1="162.7" x2="559.6" y2="162.7" stroke="#151515" stroke-width="2" shape-rendering="crispEdges"/>
<line x1="480.8" y1="213.5" x2="559.6" y2="213.5" stroke="#151515" stroke-width="2" shape-rendering="crispEdges"/>
<rect x="480.8" y="179.5" width="13" height="17.4" rx="1.5" fill="#111"/>
<line x1="416.7" y1="188.6" x2="550" y2="188.6" stroke="#151515" stroke-width="2" shape-rendering="crispEdges" stroke-dasharray="18,12"/>
<path d="M457.6,251.6 H432.5 Q426.5,251.6 426.5,257.6 V287.5 Q426.5,293.5 432.5,293.5 H457.6" stroke="#151515" stroke-width="2" fill="none" />
<path d="M457.6,259.6 H433 Q435,266 433,272.3 Q435,278.6 433,284.6 H457.6" stroke="#151515" stroke-width="2" fill="none" />
<line x1="433" y1="259.6" x2="433" y2="284.6" stroke="#151515" stroke-width="2" shape-rendering="crispEdges"/>
<path d="M457.6,239.4 H469.4 V254.7 H470.9 V290 H469.4 V305.3 H457.6 Z" stroke="#151515" stroke-width="2.6" fill="none" />
<line x1="459.4" y1="240" x2="459.4" y2="304.8" stroke="#151515" stroke-width="1" shape-rendering="crispEdges"/>
<path d="M480.8,297.4 V249.2 H518.8 V293.9" stroke="#151515" stroke-width="2" fill="none" />
<rect x="480.8" y="263.9" width="13" height="16.9" rx="1.5" fill="#111"/>
<line x1="416.7" y1="272.7" x2="552" y2="272.7" stroke="#151515" stroke-width="2" shape-rendering="crispEdges" stroke-dasharray="18,12"/>
<line x1="471.5" y1="155" x2="471.5" y2="305.3" stroke="#151515" stroke-width="2" shape-rendering="crispEdges"/>
<line x1="471.8" y1="221.2" x2="471.8" y2="239.4" stroke="#151515" stroke-width="4" shape-rendering="crispEdges"/>
<line x1="480.8" y1="155" x2="480.8" y2="297.3" stroke="#151515" stroke-width="2" shape-rendering="crispEdges"/>
<line x1="559.6" y1="162.7" x2="559.6" y2="305.3" stroke="#151515" stroke-width="2" shape-rendering="crispEdges"/>
<line x1="480.8" y1="297.3" x2="559.6" y2="297.3" stroke="#151515" stroke-width="2" shape-rendering="crispEdges"/>
<line x1="524.9" y1="213.5" x2="524.9" y2="291.4" stroke="#151515" stroke-width="2" shape-rendering="crispEdges"/>
<path d="M498.4,297.3 L503,293.9 H539 L543.3,297.3" stroke="#151515" stroke-width="2" fill="none" />
<rect x="512.7" y="291.4" width="16.3" height="2.5" stroke="#151515" stroke-width="2" fill="none" shape-rendering="crispEdges"/>
<line x1="457.6" y1="305.3" x2="559.6" y2="305.3" stroke="#151515" stroke-width="3" shape-rendering="crispEdges"/>
<path d="M483,305.3 V321 Q484.4,322.6 485.8,321 V305.3" stroke="#151515" stroke-width="2" fill="none" />
<path d="M493.3,305.3 V321 Q494.8,322.6 496.3,321 V305.3" stroke="#151515" stroke-width="2" fill="none" />
<path d="M498.4,305.3 V325 Q499.9,326.6 501.4,325 V305.3" stroke="#151515" stroke-width="2" fill="none" />
<path d="M503.5,305.3 V321 Q505,322.6 506.5,321 V305.3" stroke="#151515" stroke-width="2" fill="none" />
<path d="M534,305.3 V321 Q535.5,322.6 537,321 V305.3" stroke="#151515" stroke-width="2" fill="none" />
<path d="M540.2,305.3 V325 Q541.75,326.6 543.3,325 V305.3" stroke="#151515" stroke-width="2" fill="none" />
<path d="M548.4,305.3 V321 Q549.9,322.6 551.4,321 V305.3" stroke="#151515" stroke-width="2" fill="none" />
<path d="M498.4,297.3 L503,293.9 H539 L543.3,297.3" stroke="#151515" stroke-width="2" fill="none" />
<line x1="508.4" y1="293.9" x2="508.4" y2="297.3" stroke="#151515" stroke-width="2" shape-rendering="crispEdges"/>
<line x1="532.8" y1="293.9" x2="532.8" y2="297.3" stroke="#151515" stroke-width="2" shape-rendering="crispEdges"/>
</g>
<line x1="579.3" y1="640.3" x2="611.5" y2="640.3" stroke="#151515" stroke-width="1" shape-rendering="crispEdges"/>
<line x1="579.3" y1="715.2" x2="611.5" y2="715.2" stroke="#151515" stroke-width="1" shape-rendering="crispEdges"/>
<line x1="580.3" y1="640.3" x2="580.3" y2="715.2" stroke="#151515" stroke-width="1" shape-rendering="crispEdges"/>
<polygon points="580.5,640.3 581.5,643.8 579.5,643.8" fill="#151515"/>
<polygon points="580.5,715.2 579.5,711.7 581.5,711.7" fill="#151515"/>
<line x1="590.3" y1="656.9" x2="590.3" y2="698.9" stroke="#151515" stroke-width="1" shape-rendering="crispEdges"/>
<polygon points="590.5,656.9 591.5,660.4 589.5,660.4" fill="#151515"/>
<polygon points="590.5,698.9 589.5,695.4 591.5,695.4" fill="#151515"/>
<text transform="translate(578.8 691.92) rotate(-90) scale(0.93 1)" x="2.85 8.55 13.1 19.94 25.64" y="0" font-family="Liberation Serif" font-size="10.38" fill="#151515" text-anchor="middle" stroke="#151515" stroke-width="0.21">28.41</text>
<text transform="translate(589.2 691.22) rotate(-90) scale(0.87 1)" x="3.06 9.17 14.07 21.41 27.52" y="0" font-family="Liberation Serif" font-size="11.15" fill="#151515" text-anchor="middle" stroke="#151515" stroke-width="0.21">15.88</text>
<line x1="596.1" y1="633" x2="596.1" y2="663.3" stroke="#151515" stroke-width="1" shape-rendering="crispEdges"/>
<line x1="611.5" y1="633" x2="611.5" y2="640.3" stroke="#151515" stroke-width="1" shape-rendering="crispEdges"/>
<line x1="596.1" y1="634.5" x2="611.5" y2="634.5" stroke="#151515" stroke-width="1" shape-rendering="crispEdges"/>
<polygon points="596.1,634.5 599.6,633.5 599.6,635.5" fill="#151515"/>
<polygon points="611.5,634.5 608,635.5 608,633.5" fill="#151515"/>
<line x1="611.5" y1="634.5" x2="640" y2="634.5" stroke="#151515" stroke-width="1" shape-rendering="crispEdges"/>
<text transform="translate(615.54 633.6) scale(0.9 1)" x="3.2 8.32 16.01 22.41" y="0" font-family="Liberation Serif" font-size="12" fill="#151515" text-anchor="middle" stroke="#151515" stroke-width="0.21">5.80</text>
<line x1="679" y1="629.5" x2="1062.5" y2="629.5" stroke="#151515" stroke-width="1" shape-rendering="crispEdges"/>
<line x1="679" y1="629.5" x2="679" y2="755" stroke="#151515" stroke-width="1" shape-rendering="crispEdges"/>
<line x1="775.5" y1="629.5" x2="775.5" y2="755" stroke="#151515" stroke-width="1" shape-rendering="crispEdges"/>
<line x1="679" y1="674" x2="775.5" y2="674" stroke="#151515" stroke-width="1" shape-rendering="crispEdges"/>
<line x1="679" y1="740.4" x2="775.5" y2="740.4" stroke="#151515" stroke-width="1" shape-rendering="crispEdges"/>
<line x1="775.5" y1="665.6" x2="1062.5" y2="665.6" stroke="#151515" stroke-width="1" shape-rendering="crispEdges"/>
<line x1="854.6" y1="665.6" x2="854.6" y2="755" stroke="#151515" stroke-width="1" shape-rendering="crispEdges"/>
<line x1="775.5" y1="695.3" x2="854.6" y2="695.3" stroke="#151515" stroke-width="1" shape-rendering="crispEdges"/>
<line x1="775.5" y1="725" x2="854.6" y2="725" stroke="#151515" stroke-width="1" shape-rendering="crispEdges"/>
<line x1="854.6" y1="701.2" x2="1062.5" y2="701.2" stroke="#151515" stroke-width="1" shape-rendering="crispEdges"/>
<line x1="854.6" y1="719.2" x2="1062.5" y2="719.2" stroke="#151515" stroke-width="1" shape-rendering="crispEdges"/>
<line x1="854.6" y1="737.1" x2="1062.5" y2="737.1" stroke="#151515" stroke-width="1" shape-rendering="crispEdges"/>
<line x1="937.3" y1="701.2" x2="937.3" y2="755" stroke="#151515" stroke-width="1" shape-rendering="crispEdges"/>
<polygon points="1062,749.5 1062,755 1056.5,755" fill="#111"/>
<circle cx="697.7" cy="646.9" r="7.6" stroke="#151515" stroke-width="1.2" fill="none"/>
<circle cx="697.7" cy="646.9" r="4.3" stroke="#151515" stroke-width="1.2" fill="none"/>
<line x1="688.5" y1="646.9" x2="706.9" y2="646.9" stroke="#151515" stroke-width="1" shape-rendering="crispEdges"/>
<line x1="697.7" y1="637.7" x2="697.7" y2="656.1" stroke="#151515" stroke-width="1" shape-rendering="crispEdges"/>
<line x1="720.5" y1="646.9" x2="762.4" y2="646.9" stroke="#151515" stroke-width="1" shape-rendering="crispEdges"/>
<polygon points="725.4,643.4 759.8,639.4 759.8,654.4 725.4,650.4" stroke="#151515" stroke-width="1.1" fill="none"/>
<text x="689" y="668.5" font-family="Liberation Serif" font-size="11.06" fill="#151515" font-weight="bold" textLength="77.8" lengthAdjust="spacingAndGlyphs">UNIT: mm [inch]</text>
<text x="690.4" y="685.3" font-family="Liberation Serif" font-size="10.61" fill="#151515" font-weight="bold" textLength="52.8" lengthAdjust="spacingAndGlyphs">TOLERANCE:</text>
<text x="690.7" y="696.7" font-family="Liberation Sans" font-size="10.17" fill="#151515" textLength="14" lengthAdjust="spacingAndGlyphs">X.X</text>
<text x="690.7" y="708" font-family="Liberation Sans" font-size="10.17" fill="#151515" textLength="20.1" lengthAdjust="spacingAndGlyphs">X.XX</text>
<text x="690.7" y="720.3" font-family="Liberation Sans" font-size="10.17" fill="#151515" textLength="26.3" lengthAdjust="spacingAndGlyphs">X.XXX</text>
<text x="724.8" y="696.7" font-family="Liberation Sans" font-size="10.17" fill="#151515" textLength="28" lengthAdjust="spacing">±0.35</text>
<text x="724.8" y="708" font-family="Liberation Sans" font-size="10.17" fill="#151515" textLength="28" lengthAdjust="spacing">±0.25</text>
<text x="724.8" y="720.3" font-family="Liberation Sans" font-size="10.17" fill="#151515" textLength="28" lengthAdjust="spacing">±0.15</text>
<text x="690.4" y="731.4" font-family="Liberation Sans" font-size="9.74" fill="#151515" textLength="23.9" lengthAdjust="spacingAndGlyphs">Angle</text>
<text x="727.5" y="731.7" font-family="Liberation Sans" font-size="10.17" fill="#151515" textLength="24.5" lengthAdjust="spacing">±3.0°</text>
<text x="683.4" y="751.8" font-family="Liberation Serif" font-size="10.61" fill="#151515" font-weight="bold" textLength="40.6" lengthAdjust="spacingAndGlyphs">SCALE:1:1</text>
<text x="735.3" y="751.8" font-family="Liberation Serif" font-size="10.61" fill="#151515" font-weight="bold" textLength="31.5" lengthAdjust="spacingAndGlyphs">SIZE:A4</text>
<text x="777.3" y="676.4" font-family="Liberation Serif" font-size="11.52" fill="#151515" font-weight="bold" textLength="35" lengthAdjust="spacingAndGlyphs">DESIGN:</text>
<path d="M782.97,684.47 L789.83,684.47 M786.4,683.62 L786.4,692.18 M782.12,687.47 L790.68,687.47 M786.4,687.9 L782.12,692.18 M786.4,687.9 L790.68,692.18" stroke="#151515" stroke-width="1.84" fill="none" stroke-linecap="square"/>
<path d="M793.97,684.47 L800.83,684.47 M797.4,683.62 L797.4,692.18 M793.12,687.47 L801.68,687.47 M797.4,687.9 L793.12,692.18 M797.4,687.9 L801.68,692.18 M794.4,690.04 L800.4,690.04" stroke="#151515" stroke-width="1.84" fill="none" stroke-linecap="square"/>
<text transform="translate(805.52 691.6) scale(0.62 1)" x="2.79 8.38 13.96 19.55 24.02 30.72 36.31 41.89 46.36 53.06 58.65 64.23" y="0" font-family="Liberation Serif" font-size="10.99" fill="#151515" text-anchor="middle" stroke="#151515" stroke-width="0.25">2021. 12. 02</text>
<text x="777.3" y="704.8" font-family="Liberation Serif" font-size="11.52" fill="#151515" font-weight="bold" textLength="42.7" lengthAdjust="spacingAndGlyphs">CHECKED:</text>
<path d="M782.97,714.17 L789.83,714.17 M786.4,713.32 L786.4,721.88 M782.12,717.17 L790.68,717.17 M786.4,717.6 L782.12,721.88 M786.4,717.6 L790.68,721.88" stroke="#151515" stroke-width="1.84" fill="none" stroke-linecap="square"/>
<path d="M793.97,714.17 L800.83,714.17 M797.4,713.32 L797.4,721.88 M793.12,717.17 L801.68,717.17 M797.4,717.6 L793.12,721.88 M797.4,717.6 L801.68,721.88 M794.4,719.74 L800.4,719.74" stroke="#151515" stroke-width="1.84" fill="none" stroke-linecap="square"/>
<text transform="translate(805.52 721.3) scale(0.62 1)" x="2.79 8.38 13.96 19.55 24.02 30.72 36.31 41.89 46.36 53.06 58.65 64.23" y="0" font-family="Liberation Serif" font-size="10.99" fill="#151515" text-anchor="middle" stroke="#151515" stroke-width="0.25">2021. 12. 02</text>
<text x="777.3" y="733.8" font-family="Liberation Serif" font-size="11.52" fill="#151515" font-weight="bold" textLength="48.7" lengthAdjust="spacingAndGlyphs">APPROVED:</text>
<path d="M782.12,742.2 L790.68,742.2 M786.4,740.92 L786.4,744.77 M782.97,744.77 L789.83,744.77 M783.83,746.06 L783.83,749.48 M788.97,746.06 L788.97,749.48 M783.83,746.06 L788.97,746.06 M783.83,749.48 L788.97,749.48" stroke="#151515" stroke-width="1.84" fill="none" stroke-linecap="square"/>
<path d="M793.12,743.49 L795.69,743.49 M794.4,740.92 L794.4,749.48 M793.12,746.91 L795.69,746.23 M796.54,741.6 L801.68,741.6 M796.54,748.8 L801.68,748.8 M796.97,741.6 L796.97,749.48 M800.83,741.6 L800.83,749.48 M799.11,740.92 L799.11,749.48" stroke="#151515" stroke-width="1.84" fill="none" stroke-linecap="square"/>
<text transform="translate(805.52 748.9) scale(0.62 1)" x="2.79 8.38 13.96 19.55 24.02 30.72 36.31 41.89 46.36 53.06 58.65 64.23" y="0" font-family="Liberation Serif" font-size="10.99" fill="#151515" text-anchor="middle" stroke="#151515" stroke-width="0.25">2021. 12. 02</text>
<text x="861.2" y="676.5" font-family="Liberation Serif" font-size="11.36" fill="#151515" font-weight="bold" textLength="54.1" lengthAdjust="spacingAndGlyphs">PART NAME:</text>
<path d="M904.19,687.06 L907.08,687.06 M905.27,684.89 L905.27,692.11 M904.19,689.94 L907.08,689.37 M907.8,685.47 L911.41,685.47 M907.8,688.5 L911.41,688.5 M907.8,691.53 L911.41,691.53 M908.16,685.47 L908.16,692.11 M910.69,685.47 L910.69,692.11" stroke="#444" stroke-width="0.64" fill="none" stroke-linecap="square"/>
<path d="M912.49,685.97 L919.71,685.97 M916.1,684.89 L916.1,688.14 M913.21,688.14 L918.99,688.14 M913.93,689.22 L913.93,692.11 M918.27,689.22 L918.27,692.11 M913.93,689.22 L918.27,689.22 M913.93,692.11 L918.27,692.11" stroke="#444" stroke-width="0.64" fill="none" stroke-linecap="square"/>
<text transform="translate(920.15 692.4) scale(0.65 1)" x="3.39 10.16 16.94 23.71 30.49 37.26 44.04 50.81 57.59 64.36 71.14 77.91 83.33 91.47 98.24" y="0" font-family="Liberation Serif" font-size="9.77" fill="#333" text-anchor="middle" stroke="#333" stroke-width="0.25">DR9M-HDR15F5.08</text>
<path d="M988.09,685.97 L995.31,685.97 M991.7,684.89 L991.7,688.14 M988.81,688.14 L994.59,688.14 M989.53,689.22 L989.53,692.11 M993.87,689.22 L993.87,692.11 M989.53,689.22 L993.87,689.22 M989.53,692.11 L993.87,692.11 M989.53,690.67 L993.87,690.67" stroke="#444" stroke-width="0.64" fill="none" stroke-linecap="square"/>
<path d="M997.11,685.61 L1002.89,685.61 M1000,684.89 L1000,692.11 M996.39,688.14 L1003.61,688.14 M1000,688.5 L996.39,692.11 M1000,688.5 L1003.61,692.11" stroke="#444" stroke-width="0.64" fill="none" stroke-linecap="square"/>
<path d="M1004.69,687.06 L1006.86,687.06 M1005.77,684.89 L1005.77,692.11 M1004.69,689.94 L1006.86,689.37 M1007.58,685.47 L1011.91,685.47 M1007.58,687.49 L1011.91,687.49 M1007.58,689.51 L1011.91,689.51 M1007.58,691.53 L1011.91,691.53 M1007.94,685.47 L1007.94,692.11 M1011.19,685.47 L1011.19,692.11 M1009.74,684.89 L1009.74,692.11" stroke="#444" stroke-width="0.64" fill="none" stroke-linecap="square"/>
<text x="860.2" y="714.8" font-family="Liberation Serif" font-size="11.52" fill="#151515" font-weight="bold" textLength="42.8" lengthAdjust="spacingAndGlyphs">PART NO.</text>
<text transform="translate(957.87 713.4) scale(0.53 1)" x="3.94 11.83 18.13 27.6 35.48 43.36 51.25 59.13 67.02 74.9 82.79 90.67 98.56 106.44 114.33 122.21 130.09 137.98 145.86 153.75" y="0" font-family="Liberation Serif" font-size="11.3" fill="#333" text-anchor="middle" stroke="#333" stroke-width="0.28">01. SC0024XXXXXXXC01</text>
<text x="860.2" y="733.2" font-family="Liberation Serif" font-size="11.52" fill="#151515" font-weight="bold" textLength="44.8" lengthAdjust="spacingAndGlyphs">DRAW NO.</text>
<text transform="translate(971.05 731.6) scale(0.59 1)" x="3.68 11.04 18.4 25.76 33.12 40.48 47.85 55.21 62.57 69.93 77.29 84.65 92.01" y="0" font-family="Liberation Serif" font-size="11.3" fill="#333" text-anchor="middle" stroke="#333" stroke-width="0.26">YZPC-SC00-011</text>
<text x="858.6" y="751.1" font-family="Liberation Serif" font-size="11.52" fill="#151515" font-weight="bold" textLength="48.5" lengthAdjust="spacingAndGlyphs">SHEET NO.</text>
<text x="980.6" y="750.6" font-family="Liberation Sans" font-size="11.34" fill="#151515" textLength="37.8" lengthAdjust="spacingAndGlyphs">01 OF 01</text>
<rect x="787.2" y="633.1" width="36.5" height="20" stroke="#1f3a9e" stroke-width="1.4" fill="none" rx="1.8"/>
<path d="M789.5,636.1 L800,647.6 L808.4,636.1 H819.5 L811.2,647.6" stroke="#1f3a9e" stroke-width="1.7" fill="none" />
<line x1="789.2" y1="648.8" x2="821.7" y2="648.8" stroke="#1f3a9e" stroke-width="2" shape-rendering="crispEdges"/>
<circle cx="799.7" cy="638.9" r="2.6" stroke="#151515" stroke-width="0" fill="#e02020"/>
<circle cx="825.9" cy="633.4" r="1.8" stroke="#1f3a9e" stroke-width="0.5" fill="none"/>
<text x="788" y="661.7" font-family="Liberation Sans" font-size="9.3" fill="#1f3a9e" font-weight="bold" textLength="35.4" lengthAdjust="spacingAndGlyphs">YZPC</text>
<path d="M833.88,635.38 L845.22,635.38 M839.55,633.68 L839.55,638.78 M835.01,638.78 L844.09,638.78 M836.15,640.48 L836.15,645.02 M842.95,640.48 L842.95,645.02 M836.15,640.48 L842.95,640.48 M836.15,645.02 L842.95,645.02 M836.15,642.75 L842.95,642.75" stroke="#1f3a9e" stroke-width="1.92" fill="none" stroke-linecap="square"/>
<path d="M849.91,634.81 L858.99,634.81 M854.45,633.68 L854.45,645.02 M848.78,638.78 L860.12,638.78 M854.45,639.35 L848.78,645.02 M854.45,639.35 L860.12,645.02 M850.48,642.18 L858.42,642.18" stroke="#1f3a9e" stroke-width="1.92" fill="none" stroke-linecap="square"/>
<path d="M863.68,635.38 L875.02,635.38 M869.35,633.68 L869.35,638.78 M864.81,638.78 L873.89,638.78 M865.95,640.48 L865.95,645.02 M872.75,640.48 L872.75,645.02 M865.95,640.48 L872.75,640.48 M865.95,645.02 L872.75,645.02 M865.95,642.75 L872.75,642.75" stroke="#1f3a9e" stroke-width="1.92" fill="none" stroke-linecap="square"/>
<path d="M878.58,637.08 L882.55,637.08 M880.28,633.68 L880.28,645.02 M878.58,641.62 L882.55,640.71 M883.68,634.59 L889.92,634.59 M883.68,639.35 L889.92,639.35 M883.68,644.11 L889.92,644.11 M884.25,634.59 L884.25,645.02 M888.79,634.59 L888.79,645.02" stroke="#1f3a9e" stroke-width="1.92" fill="none" stroke-linecap="square"/>
<path d="M893.48,637.08 L898.02,637.08 M895.18,633.68 L895.18,645.02 M893.48,641.62 L898.02,640.71 M899.15,634.59 L904.82,634.59 M899.15,637.76 L904.82,637.76 M899.15,640.94 L904.82,640.94 M899.15,644.11 L904.82,644.11 M899.72,634.59 L899.72,645.02 M903.69,634.59 L903.69,645.02" stroke="#1f3a9e" stroke-width="1.92" fill="none" stroke-linecap="square"/>
<path d="M909.51,634.81 L918.59,634.81 M914.05,633.68 L914.05,645.02 M908.38,638.78 L919.72,638.78 M914.05,639.35 L908.38,645.02 M914.05,639.35 L919.72,645.02" stroke="#1f3a9e" stroke-width="1.92" fill="none" stroke-linecap="square"/>
<path d="M924.41,634.81 L933.49,634.81 M928.95,633.68 L928.95,645.02 M923.28,638.78 L934.62,638.78 M928.95,639.35 L923.28,645.02 M928.95,639.35 L934.62,645.02 M924.98,642.18 L932.92,642.18" stroke="#1f3a9e" stroke-width="1.92" fill="none" stroke-linecap="square"/>
<path d="M938.18,635.38 L949.52,635.38 M943.85,633.68 L943.85,638.78 M939.31,638.78 L948.39,638.78 M940.45,640.48 L940.45,645.02 M947.25,640.48 L947.25,645.02 M940.45,640.48 L947.25,640.48 M940.45,645.02 L947.25,645.02 M940.45,642.75 L947.25,642.75" stroke="#1f3a9e" stroke-width="1.92" fill="none" stroke-linecap="square"/>
<path d="M953.08,637.08 L957.62,637.08 M954.78,633.68 L954.78,645.02 M953.08,641.62 L957.62,640.71 M958.75,634.59 L964.42,634.59 M958.75,644.11 L964.42,644.11 M959.32,634.59 L959.32,645.02 M963.29,634.59 L963.29,645.02 M962.15,633.68 L962.15,645.02" stroke="#1f3a9e" stroke-width="1.92" fill="none" stroke-linecap="square"/>
<path d="M967.98,637.08 L972.52,637.08 M969.68,633.68 L969.68,645.02 M967.98,641.62 L972.52,640.71 M973.65,634.59 L979.32,634.59 M973.65,637.76 L979.32,637.76 M973.65,640.94 L979.32,640.94 M973.65,644.11 L979.32,644.11 M974.22,634.59 L974.22,645.02 M978.19,634.59 L978.19,645.02" stroke="#1f3a9e" stroke-width="1.92" fill="none" stroke-linecap="square"/>
<path d="M982.88,637.08 L987.42,637.08 M984.58,633.68 L984.58,645.02 M982.88,641.62 L987.42,640.71 M988.55,634.59 L994.22,634.59 M988.55,644.11 L994.22,644.11 M989.12,634.59 L989.12,645.02 M993.09,634.59 L993.09,645.02 M991.95,633.68 L991.95,645.02" stroke="#1f3a9e" stroke-width="1.92" fill="none" stroke-linecap="square"/>
<path d="M998.91,634.81 L1007.99,634.81 M1003.45,633.68 L1003.45,645.02 M997.78,638.78 L1009.12,638.78 M1003.45,639.35 L997.78,645.02 M1003.45,639.35 L1009.12,645.02" stroke="#1f3a9e" stroke-width="1.92" fill="none" stroke-linecap="square"/>
<path d="M1013.81,634.81 L1022.89,634.81 M1018.35,633.68 L1018.35,645.02 M1012.68,638.78 L1024.02,638.78 M1018.35,639.35 L1012.68,645.02 M1018.35,639.35 L1024.02,645.02" stroke="#1f3a9e" stroke-width="1.92" fill="none" stroke-linecap="square"/>
<path d="M1027.58,635.38 L1038.92,635.38 M1033.25,633.68 L1033.25,638.78 M1028.71,638.78 L1037.79,638.78 M1029.85,640.48 L1029.85,645.02 M1036.65,640.48 L1036.65,645.02 M1029.85,640.48 L1036.65,640.48 M1029.85,645.02 L1036.65,645.02" stroke="#1f3a9e" stroke-width="1.92" fill="none" stroke-linecap="square"/>
<text x="834.2" y="651.8" font-family="Liberation Sans" font-size="8.72" fill="#1f3a9e" font-weight="bold" textLength="205.8" lengthAdjust="spacingAndGlyphs">DongGuan YueZhan Precision Connectors Co.,Ltd</text>
<text x="832.8" y="658.7" font-family="Liberation Sans" font-size="6.83" fill="#1f3a9e" font-weight="bold" textLength="209.9" lengthAdjust="spacingAndGlyphs">Tel:+86-769-85316301/2  Fax:+86-769-85316391  Web:www.dgyzpc.com</text>
<path d="M758.19,42.66 L760.36,42.66 M759.27,40.49 L759.27,47.71 M758.19,45.54 L760.36,44.97 M761.08,41.07 L765.41,41.07 M761.08,43.09 L765.41,43.09 M761.08,45.11 L765.41,45.11 M761.08,47.13 L765.41,47.13 M761.44,41.07 L761.44,47.71 M764.69,41.07 L764.69,47.71 M763.24,40.49 L763.24,47.71" stroke="#444" stroke-width="0.64" fill="none" stroke-linecap="square"/>
<path d="M768.39,41.57 L775.61,41.57 M772,40.49 L772,43.74 M769.11,43.74 L774.89,43.74 M769.83,44.82 L769.83,47.71 M774.17,44.82 L774.17,47.71 M769.83,44.82 L774.17,44.82 M769.83,47.71 L774.17,47.71" stroke="#444" stroke-width="0.64" fill="none" stroke-linecap="square"/>
<path d="M779.31,41.21 L785.09,41.21 M782.2,40.49 L782.2,47.71 M778.59,43.74 L785.81,43.74 M782.2,44.1 L778.59,47.71 M782.2,44.1 L785.81,47.71" stroke="#444" stroke-width="0.64" fill="none" stroke-linecap="square"/>
<path d="M789.51,41.21 L795.29,41.21 M792.4,40.49 L792.4,47.71 M788.79,43.74 L796.01,43.74 M792.4,44.1 L788.79,47.71 M792.4,44.1 L796.01,47.71 M789.87,45.91 L794.93,45.91" stroke="#444" stroke-width="0.64" fill="none" stroke-linecap="square"/></svg>
</body></html>
